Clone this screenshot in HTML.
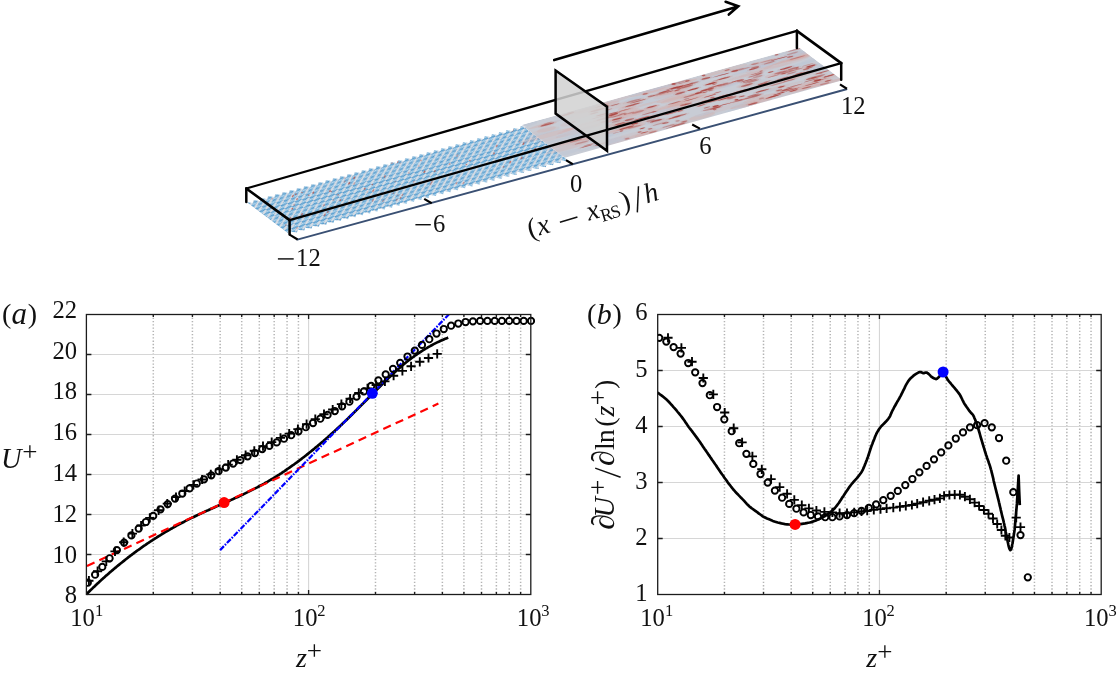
<!DOCTYPE html>
<html><head><meta charset="utf-8"><title>figure</title>
<style>
html,body{margin:0;padding:0;background:#fff;}
body{width:1117px;height:676px;overflow:hidden;position:relative;font-family:"Liberation Serif", serif;}
svg text{font-family:"Liberation Serif", serif;fill:#111;}
</style></head><body>
<svg width="1117" height="676" viewBox="0 0 1117 676" style="position:absolute;left:0;top:0">
<rect width="1117" height="676" fill="#fff"/>
<g opacity="0.999">
<defs>
<pattern id="chk" patternUnits="userSpaceOnUse" width="3.140" height="2.330">
<rect width="3.140" height="2.330" fill="#6aaedb"/>
<path d="M0 0L3.140 2.330M1.570 0L3.140 1.165M0 1.165L1.570 2.330" stroke="#4d8fc0" stroke-width="0.28" fill="none"/>
<path d="M0.785 0L3.140 1.748M0 0.583L2.355 2.330M0 0L0 0" stroke="#d3e8f5" stroke-width="0.36" fill="none"/>
<path d="M-3.140 4.660L6.280 -2.330" stroke="#dddee4" stroke-width="0.72" fill="none"/>
</pattern>
<filter id="blr" x="-5%" y="-20%" width="110%" height="140%"><feGaussianBlur stdDeviation="0.45"/></filter>
<filter id="blr2" x="-5%" y="-20%" width="110%" height="140%"><feGaussianBlur stdDeviation="0.65"/></filter>
<clipPath id="floorclip"><polygon points="246.3,201.9 289.6,234.6 841.2,79.8 796.9,48.1"/></clipPath>
<clipPath id="zigclip"><polygon points="0.00,0.00 1.57,1.50 3.14,0.01 4.71,1.51 6.28,0.02 7.85,1.52 9.42,0.03 10.99,1.53 12.56,0.04 14.13,1.54 15.70,0.05 17.27,1.55 18.84,0.06 20.41,1.56 21.98,0.07 23.55,1.57 25.12,0.08 26.69,1.58 28.26,0.09 29.83,1.59 31.40,0.10 32.97,1.60 34.54,0.12 36.11,1.62 37.68,0.13 39.25,1.63 40.82,0.14 42.39,1.64 43.96,0.15 45.53,1.65 47.10,0.16 48.67,1.66 50.24,0.17 51.81,1.67 53.38,0.18 54.95,1.68 56.52,0.19 58.09,1.69 59.66,0.20 61.23,1.70 62.80,0.21 64.37,1.71 65.94,0.22 67.51,1.72 69.08,0.23 70.65,1.73 72.22,0.24 73.79,1.74 75.36,0.25 76.93,1.75 78.50,0.26 80.07,1.76 81.64,0.27 83.21,1.77 84.78,0.28 86.35,1.78 87.92,0.29 89.49,1.79 91.06,0.30 92.63,1.80 94.20,0.31 95.77,1.81 97.34,0.32 98.91,1.82 100.48,0.33 102.05,1.83 103.62,0.35 105.19,1.85 106.76,0.36 108.33,1.86 109.90,0.37 111.47,1.87 113.04,0.38 114.61,1.88 116.18,0.39 117.75,1.89 119.32,0.40 120.89,1.90 120.00,0.00 241.00,0.00 241.00,24.00 120.00,24.00 120.00,26.40 120.89,24.90 119.32,26.39 117.75,24.86 116.18,26.32 114.61,24.79 113.04,26.26 111.47,24.73 109.90,26.20 108.33,24.67 106.76,26.14 105.19,24.60 103.62,26.07 102.05,24.54 100.48,26.01 98.91,24.48 97.34,25.95 95.77,24.42 94.20,25.88 92.63,24.35 91.06,25.82 89.49,24.29 87.92,25.76 86.35,24.23 84.78,25.70 83.21,24.16 81.64,25.63 80.07,24.10 78.50,25.57 76.93,24.04 75.36,25.51 73.79,23.98 72.22,25.44 70.65,23.91 69.08,25.38 67.51,23.85 65.94,25.32 64.37,23.79 62.80,25.26 61.23,23.72 59.66,25.19 58.09,23.66 56.52,25.13 54.95,23.60 53.38,25.07 51.81,23.54 50.24,25.00 48.67,23.47 47.10,24.94 45.53,23.41 43.96,24.88 42.39,23.35 40.82,24.82 39.25,23.29 37.68,24.75 36.11,23.22 34.54,24.69 32.97,23.16 31.40,24.63 29.83,23.10 28.26,24.57 26.69,23.03 25.12,24.50 23.55,22.97 21.98,24.44 20.41,22.91 18.84,24.38 17.27,22.85 15.70,24.31 14.13,22.78 12.56,24.25 10.99,22.72 9.42,24.19 7.85,22.66 6.28,24.13 4.71,22.59 3.14,24.06 1.57,22.53 0.00,24.00"/></clipPath>
</defs>
<g filter="url(#blr2)">
<g>
<g transform="matrix(2.29417 -0.64083 1.80417 1.36250 246.30 201.90)"><g clip-path="url(#zigclip)">
<rect x="-1" y="-1" width="121" height="29" fill="url(#chk)"/>
<path d="M39.24 4.32l1.14 -0.84" stroke="#c0564a" stroke-opacity="0.39" stroke-width="0.45"/>
<path d="M63.63 9.05l0.58 -0.43" stroke="#c0564a" stroke-opacity="0.63" stroke-width="0.45"/>
<path d="M6.31 10.54l0.59 -0.44" stroke="#c0564a" stroke-opacity="0.40" stroke-width="0.45"/>
<path d="M50.82 19.19l0.64 -0.48" stroke="#c0564a" stroke-opacity="0.47" stroke-width="0.45"/>
<path d="M74.15 21.85l1.07 -0.79" stroke="#c0564a" stroke-opacity="0.57" stroke-width="0.45"/>
<path d="M114.27 2.02l1.33 -0.99" stroke="#c0564a" stroke-opacity="0.51" stroke-width="0.45"/>
<path d="M18.59 3.59l0.81 -0.60" stroke="#c0564a" stroke-opacity="0.80" stroke-width="0.45"/>
<path d="M22.78 13.80l1.13 -0.84" stroke="#c0564a" stroke-opacity="0.55" stroke-width="0.45"/>
<path d="M64.99 2.38l0.58 -0.43" stroke="#c0564a" stroke-opacity="0.46" stroke-width="0.45"/>
<path d="M80.25 10.41l0.82 -0.61" stroke="#c0564a" stroke-opacity="0.67" stroke-width="0.45"/>
<path d="M54.12 7.59l1.27 -0.95" stroke="#c0564a" stroke-opacity="0.73" stroke-width="0.45"/>
<path d="M30.07 13.64l1.02 -0.76" stroke="#c0564a" stroke-opacity="0.83" stroke-width="0.45"/>
<path d="M85.89 7.33l1.45 -1.08" stroke="#c0564a" stroke-opacity="0.41" stroke-width="0.45"/>
<path d="M50.08 17.66l0.67 -0.50" stroke="#c0564a" stroke-opacity="0.62" stroke-width="0.45"/>
<path d="M6.51 15.70l1.25 -0.92" stroke="#c0564a" stroke-opacity="0.67" stroke-width="0.45"/>
<path d="M102.68 7.90l1.18 -0.88" stroke="#c0564a" stroke-opacity="0.68" stroke-width="0.45"/>
<path d="M68.69 11.04l1.32 -0.98" stroke="#c0564a" stroke-opacity="0.87" stroke-width="0.45"/>
<path d="M56.52 15.61l0.58 -0.43" stroke="#c0564a" stroke-opacity="0.74" stroke-width="0.45"/>
<path d="M76.42 22.85l1.30 -0.96" stroke="#c0564a" stroke-opacity="0.51" stroke-width="0.45"/>
<path d="M46.37 15.71l0.55 -0.40" stroke="#c0564a" stroke-opacity="0.60" stroke-width="0.45"/>
<path d="M21.33 3.58l0.58 -0.43" stroke="#c0564a" stroke-opacity="0.77" stroke-width="0.45"/>
<path d="M16.87 6.45l0.89 -0.66" stroke="#c0564a" stroke-opacity="0.83" stroke-width="0.45"/>
<path d="M11.27 10.88l1.04 -0.77" stroke="#c0564a" stroke-opacity="0.84" stroke-width="0.45"/>
<path d="M96.22 20.01l0.79 -0.58" stroke="#c0564a" stroke-opacity="0.58" stroke-width="0.45"/>
<path d="M43.26 20.45l1.43 -1.06" stroke="#c0564a" stroke-opacity="0.43" stroke-width="0.45"/>
<path d="M22.27 6.10l0.74 -0.55" stroke="#c0564a" stroke-opacity="0.62" stroke-width="0.45"/>
<path d="M69.75 6.78l0.53 -0.39" stroke="#c0564a" stroke-opacity="0.58" stroke-width="0.45"/>
<path d="M44.46 13.46l1.42 -1.06" stroke="#c0564a" stroke-opacity="0.73" stroke-width="0.45"/>
<path d="M61.28 14.59l1.16 -0.86" stroke="#c0564a" stroke-opacity="0.38" stroke-width="0.45"/>
<path d="M105.45 18.16l1.35 -1.00" stroke="#c0564a" stroke-opacity="0.79" stroke-width="0.45"/>
<path d="M47.12 9.78l0.62 -0.46" stroke="#c0564a" stroke-opacity="0.70" stroke-width="0.45"/>
<path d="M9.16 2.48l0.72 -0.54" stroke="#c0564a" stroke-opacity="0.44" stroke-width="0.45"/>
<path d="M41.11 2.16l0.52 -0.39" stroke="#c0564a" stroke-opacity="0.43" stroke-width="0.45"/>
<path d="M13.67 9.00l0.55 -0.41" stroke="#c0564a" stroke-opacity="0.83" stroke-width="0.45"/>
<path d="M72.62 4.27l0.76 -0.57" stroke="#c0564a" stroke-opacity="0.54" stroke-width="0.45"/>
<path d="M43.88 3.70l1.32 -0.98" stroke="#c0564a" stroke-opacity="0.90" stroke-width="0.45"/>
<path d="M55.59 11.64l0.61 -0.45" stroke="#c0564a" stroke-opacity="0.41" stroke-width="0.45"/>
<path d="M41.40 6.82l1.31 -0.97" stroke="#c0564a" stroke-opacity="0.44" stroke-width="0.45"/>
<path d="M4.66 21.92l1.02 -0.76" stroke="#c0564a" stroke-opacity="0.43" stroke-width="0.45"/>
<path d="M64.46 1.59l1.02 -0.76" stroke="#c0564a" stroke-opacity="0.89" stroke-width="0.45"/>
<path d="M101.28 16.32l0.77 -0.57" stroke="#c0564a" stroke-opacity="0.55" stroke-width="0.45"/>
<path d="M21.21 17.98l1.03 -0.76" stroke="#c0564a" stroke-opacity="0.78" stroke-width="0.45"/>
<path d="M39.91 5.91l1.29 -0.96" stroke="#c0564a" stroke-opacity="0.89" stroke-width="0.45"/>
<path d="M100.05 18.73l1.30 -0.96" stroke="#c0564a" stroke-opacity="0.76" stroke-width="0.45"/>
<path d="M28.08 12.39l0.86 -0.64" stroke="#c0564a" stroke-opacity="0.37" stroke-width="0.45"/>
<path d="M5.21 7.15l0.77 -0.57" stroke="#c0564a" stroke-opacity="0.73" stroke-width="0.45"/>
<path d="M112.00 10.84l1.41 -1.05" stroke="#c0564a" stroke-opacity="0.89" stroke-width="0.45"/>
<path d="M111.83 9.02l0.73 -0.54" stroke="#c0564a" stroke-opacity="0.47" stroke-width="0.45"/>
<path d="M24.62 5.50l1.11 -0.83" stroke="#c0564a" stroke-opacity="0.85" stroke-width="0.45"/>
<path d="M98.65 11.55l1.14 -0.85" stroke="#c0564a" stroke-opacity="0.79" stroke-width="0.45"/>
<path d="M11.75 15.53l1.38 -1.03" stroke="#c0564a" stroke-opacity="0.78" stroke-width="0.45"/>
<path d="M88.27 11.52l0.69 -0.51" stroke="#c0564a" stroke-opacity="0.78" stroke-width="0.45"/>
<path d="M40.24 18.62l1.44 -1.07" stroke="#c0564a" stroke-opacity="0.57" stroke-width="0.45"/>
<path d="M48.16 21.83l1.21 -0.90" stroke="#c0564a" stroke-opacity="0.44" stroke-width="0.45"/>
<path d="M16.61 4.33l1.38 -1.02" stroke="#c0564a" stroke-opacity="0.79" stroke-width="0.45"/>
<path d="M18.81 19.18l1.45 -1.08" stroke="#c0564a" stroke-opacity="0.71" stroke-width="0.45"/>
<path d="M42.30 13.07l0.65 -0.48" stroke="#c0564a" stroke-opacity="0.36" stroke-width="0.45"/>
<path d="M113.65 15.29l1.02 -0.76" stroke="#c0564a" stroke-opacity="0.86" stroke-width="0.45"/>
<path d="M51.89 20.18l1.30 -0.97" stroke="#c0564a" stroke-opacity="0.47" stroke-width="0.45"/>
<path d="M30.96 7.45l0.75 -0.56" stroke="#c0564a" stroke-opacity="0.67" stroke-width="0.45"/>
<path d="M31.83 10.22l0.65 -0.48" stroke="#c0564a" stroke-opacity="0.85" stroke-width="0.45"/>
<path d="M42.69 11.08l1.07 -0.80" stroke="#c0564a" stroke-opacity="0.85" stroke-width="0.45"/>
<path d="M50.37 21.19l1.00 -0.74" stroke="#c0564a" stroke-opacity="0.64" stroke-width="0.45"/>
<path d="M62.20 1.41l0.94 -0.70" stroke="#c0564a" stroke-opacity="0.45" stroke-width="0.45"/>
<path d="M2.45 18.58l0.69 -0.51" stroke="#c0564a" stroke-opacity="0.61" stroke-width="0.45"/>
<path d="M85.40 13.24l0.83 -0.62" stroke="#c0564a" stroke-opacity="0.64" stroke-width="0.45"/>
<path d="M65.88 18.25l0.62 -0.46" stroke="#c0564a" stroke-opacity="0.66" stroke-width="0.45"/>
<path d="M30.58 7.09l1.25 -0.93" stroke="#c0564a" stroke-opacity="0.63" stroke-width="0.45"/>
<path d="M66.60 17.72l1.38 -1.03" stroke="#c0564a" stroke-opacity="0.59" stroke-width="0.45"/>
<path d="M72.44 12.12l1.01 -0.75" stroke="#c0564a" stroke-opacity="0.73" stroke-width="0.45"/>
<rect x="120" y="-1" width="122" height="26" fill="#c8ccd5"/>
<ellipse cx="176.5" cy="12.80" rx="7.8" ry="1.45" fill="#d9a39d" fill-opacity="0.24"/>
<ellipse cx="225.7" cy="22.61" rx="6.1" ry="1.10" fill="#d9a39d" fill-opacity="0.29"/>
<ellipse cx="221.4" cy="3.29" rx="5.0" ry="1.00" fill="#d9a39d" fill-opacity="0.11"/>
<ellipse cx="151.9" cy="1.75" rx="9.4" ry="1.31" fill="#d9a39d" fill-opacity="0.28"/>
<ellipse cx="141.9" cy="17.19" rx="9.3" ry="0.73" fill="#d9a39d" fill-opacity="0.28"/>
<ellipse cx="236.2" cy="5.27" rx="11.6" ry="0.96" fill="#d9a39d" fill-opacity="0.20"/>
<ellipse cx="238.8" cy="19.98" rx="5.3" ry="0.99" fill="#d9a39d" fill-opacity="0.20"/>
<ellipse cx="163.3" cy="4.70" rx="6.5" ry="1.25" fill="#d9a39d" fill-opacity="0.10"/>
<ellipse cx="188.3" cy="10.57" rx="4.1" ry="0.90" fill="#d9a39d" fill-opacity="0.22"/>
<ellipse cx="183.4" cy="1.54" rx="11.9" ry="1.31" fill="#d9a39d" fill-opacity="0.29"/>
<ellipse cx="136.2" cy="6.37" rx="4.3" ry="1.30" fill="#d9a39d" fill-opacity="0.15"/>
<ellipse cx="139.0" cy="10.13" rx="11.3" ry="1.34" fill="#d9a39d" fill-opacity="0.15"/>
<ellipse cx="141.3" cy="22.06" rx="8.6" ry="1.23" fill="#d9a39d" fill-opacity="0.12"/>
<ellipse cx="130.7" cy="16.52" rx="7.4" ry="0.67" fill="#d9a39d" fill-opacity="0.29"/>
<ellipse cx="197.6" cy="19.24" rx="4.7" ry="1.37" fill="#d9a39d" fill-opacity="0.11"/>
<ellipse cx="224.1" cy="10.89" rx="6.7" ry="1.10" fill="#d9a39d" fill-opacity="0.29"/>
<ellipse cx="155.1" cy="3.10" rx="8.2" ry="0.81" fill="#d9a39d" fill-opacity="0.12"/>
<ellipse cx="142.7" cy="1.21" rx="5.6" ry="0.88" fill="#d9a39d" fill-opacity="0.16"/>
<ellipse cx="212.1" cy="6.96" rx="8.0" ry="0.76" fill="#d9a39d" fill-opacity="0.17"/>
<ellipse cx="126.1" cy="6.01" rx="4.1" ry="1.26" fill="#d9a39d" fill-opacity="0.21"/>
<ellipse cx="146.0" cy="11.39" rx="11.5" ry="0.70" fill="#d9a39d" fill-opacity="0.26"/>
<ellipse cx="174.1" cy="11.88" rx="10.7" ry="0.95" fill="#d9a39d" fill-opacity="0.20"/>
<ellipse cx="203.8" cy="23.58" rx="6.7" ry="1.35" fill="#d9a39d" fill-opacity="0.24"/>
<ellipse cx="197.8" cy="9.71" rx="6.8" ry="0.65" fill="#d9a39d" fill-opacity="0.13"/>
<ellipse cx="132.2" cy="17.78" rx="6.0" ry="0.75" fill="#d9a39d" fill-opacity="0.12"/>
<ellipse cx="221.6" cy="20.89" rx="9.4" ry="0.85" fill="#d9a39d" fill-opacity="0.15"/>
<ellipse cx="158.0" cy="11.03" rx="5.3" ry="1.00" fill="#d9a39d" fill-opacity="0.15"/>
<ellipse cx="235.6" cy="23.34" rx="8.4" ry="0.82" fill="#d9a39d" fill-opacity="0.29"/>
<ellipse cx="159.9" cy="8.56" rx="4.0" ry="0.94" fill="#d9a39d" fill-opacity="0.19"/>
<ellipse cx="182.3" cy="4.82" rx="8.0" ry="0.60" fill="#d9a39d" fill-opacity="0.15"/>
<ellipse cx="134.4" cy="9.59" rx="4.3" ry="0.62" fill="#d9a39d" fill-opacity="0.16"/>
<ellipse cx="151.0" cy="14.05" rx="8.2" ry="1.28" fill="#d9a39d" fill-opacity="0.23"/>
<ellipse cx="207.1" cy="21.10" rx="7.1" ry="0.89" fill="#d9a39d" fill-opacity="0.30"/>
<ellipse cx="141.3" cy="17.38" rx="9.1" ry="0.64" fill="#d9a39d" fill-opacity="0.27"/>
<ellipse cx="227.5" cy="15.06" rx="9.9" ry="1.33" fill="#d9a39d" fill-opacity="0.13"/>
<ellipse cx="184.8" cy="12.10" rx="10.7" ry="1.32" fill="#d9a39d" fill-opacity="0.27"/>
<ellipse cx="191.8" cy="21.43" rx="9.5" ry="1.22" fill="#d9a39d" fill-opacity="0.15"/>
<ellipse cx="127.6" cy="3.19" rx="6.9" ry="0.69" fill="#d9a39d" fill-opacity="0.27"/>
<ellipse cx="188.8" cy="15.07" rx="9.0" ry="1.21" fill="#d9a39d" fill-opacity="0.20"/>
<ellipse cx="124.4" cy="19.14" rx="10.0" ry="1.05" fill="#d9a39d" fill-opacity="0.21"/>
<ellipse cx="200.5" cy="1.59" rx="9.9" ry="0.83" fill="#d9a39d" fill-opacity="0.11"/>
<ellipse cx="154.8" cy="17.50" rx="5.6" ry="1.27" fill="#d9a39d" fill-opacity="0.30"/>
<ellipse cx="181.3" cy="9.18" rx="7.8" ry="1.22" fill="#d9a39d" fill-opacity="0.25"/>
<ellipse cx="195.6" cy="15.43" rx="4.6" ry="0.73" fill="#d9a39d" fill-opacity="0.15"/>
<ellipse cx="210.2" cy="7.31" rx="8.5" ry="0.61" fill="#d9a39d" fill-opacity="0.11"/>
<ellipse cx="155.2" cy="16.13" rx="9.5" ry="1.21" fill="#d9a39d" fill-opacity="0.16"/>
<ellipse cx="183.9" cy="11.15" rx="7.7" ry="0.71" fill="#d9a39d" fill-opacity="0.28"/>
<ellipse cx="147.1" cy="23.48" rx="11.5" ry="0.62" fill="#d9a39d" fill-opacity="0.19"/>
<ellipse cx="219.1" cy="23.23" rx="7.6" ry="0.84" fill="#d9a39d" fill-opacity="0.14"/>
<ellipse cx="233.7" cy="5.06" rx="8.7" ry="0.73" fill="#d9a39d" fill-opacity="0.20"/>
<ellipse cx="234.5" cy="3.18" rx="10.6" ry="1.06" fill="#d9a39d" fill-opacity="0.28"/>
<ellipse cx="205.6" cy="5.55" rx="11.2" ry="1.04" fill="#d9a39d" fill-opacity="0.10"/>
<ellipse cx="124.4" cy="11.80" rx="7.6" ry="0.87" fill="#d9a39d" fill-opacity="0.13"/>
<ellipse cx="163.9" cy="7.59" rx="10.7" ry="0.60" fill="#d9a39d" fill-opacity="0.25"/>
<ellipse cx="221.3" cy="2.88" rx="11.4" ry="1.24" fill="#d9a39d" fill-opacity="0.28"/>
<ellipse cx="157.6" cy="8.93" rx="7.1" ry="1.50" fill="#d9a39d" fill-opacity="0.22"/>
<ellipse cx="165.8" cy="10.27" rx="6.2" ry="0.64" fill="#d9a39d" fill-opacity="0.12"/>
<ellipse cx="220.8" cy="6.85" rx="11.5" ry="0.82" fill="#d9a39d" fill-opacity="0.15"/>
<ellipse cx="183.3" cy="4.56" rx="7.0" ry="1.46" fill="#d9a39d" fill-opacity="0.28"/>
<ellipse cx="218.2" cy="15.14" rx="11.3" ry="1.45" fill="#d9a39d" fill-opacity="0.21"/>
<ellipse cx="207.5" cy="1.19" rx="9.9" ry="1.01" fill="#d9a39d" fill-opacity="0.25"/>
<ellipse cx="198.8" cy="6.87" rx="4.4" ry="1.43" fill="#d9a39d" fill-opacity="0.13"/>
<ellipse cx="178.8" cy="8.25" rx="6.4" ry="1.27" fill="#d9a39d" fill-opacity="0.30"/>
<ellipse cx="154.2" cy="15.74" rx="6.4" ry="1.10" fill="#d9a39d" fill-opacity="0.18"/>
<ellipse cx="143.4" cy="3.88" rx="5.7" ry="1.42" fill="#d9a39d" fill-opacity="0.20"/>
<ellipse cx="149.5" cy="21.75" rx="12.0" ry="1.00" fill="#d9a39d" fill-opacity="0.13"/>
<ellipse cx="146.3" cy="2.18" rx="6.7" ry="0.68" fill="#d9a39d" fill-opacity="0.15"/>
<ellipse cx="154.0" cy="13.67" rx="11.1" ry="1.27" fill="#d9a39d" fill-opacity="0.18"/>
<ellipse cx="172.0" cy="12.58" rx="7.0" ry="0.90" fill="#d9a39d" fill-opacity="0.11"/>
<ellipse cx="156.2" cy="23.22" rx="5.0" ry="1.05" fill="#d9a39d" fill-opacity="0.23"/>
<ellipse cx="224.1" cy="5.18" rx="6.2" ry="0.82" fill="#d9a39d" fill-opacity="0.18"/>
<ellipse cx="175.7" cy="22.89" rx="10.8" ry="1.39" fill="#d9a39d" fill-opacity="0.10"/>
<ellipse cx="127.7" cy="17.03" rx="11.2" ry="1.03" fill="#d9a39d" fill-opacity="0.22"/>
<ellipse cx="124.0" cy="9.40" rx="11.4" ry="1.34" fill="#d9a39d" fill-opacity="0.27"/>
<ellipse cx="236.8" cy="5.96" rx="4.9" ry="0.74" fill="#d9a39d" fill-opacity="0.20"/>
<ellipse cx="203.1" cy="22.60" rx="9.8" ry="1.18" fill="#d9a39d" fill-opacity="0.25"/>
<ellipse cx="177.0" cy="13.24" rx="4.3" ry="1.30" fill="#d9a39d" fill-opacity="0.15"/>
<ellipse cx="230.7" cy="15.49" rx="6.4" ry="0.72" fill="#d9a39d" fill-opacity="0.15"/>
<ellipse cx="197.8" cy="16.77" rx="4.9" ry="0.66" fill="#d9a39d" fill-opacity="0.20"/>
<ellipse cx="191.6" cy="9.31" rx="5.8" ry="1.14" fill="#d9a39d" fill-opacity="0.10"/>
<ellipse cx="159.0" cy="11.06" rx="11.7" ry="1.18" fill="#d9a39d" fill-opacity="0.28"/>
<ellipse cx="179.1" cy="5.63" rx="6.0" ry="1.46" fill="#d9a39d" fill-opacity="0.24"/>
<ellipse cx="159.7" cy="0.52" rx="8.0" ry="1.21" fill="#d9a39d" fill-opacity="0.18"/>
<ellipse cx="153.8" cy="16.02" rx="11.4" ry="0.80" fill="#d9a39d" fill-opacity="0.11"/>
<ellipse cx="163.2" cy="10.09" rx="9.5" ry="0.78" fill="#d9a39d" fill-opacity="0.26"/>
<ellipse cx="209.7" cy="12.12" rx="5.6" ry="1.47" fill="#d9a39d" fill-opacity="0.16"/>
<ellipse cx="219.1" cy="5.54" rx="5.8" ry="1.28" fill="#d9a39d" fill-opacity="0.16"/>
<ellipse cx="234.4" cy="11.90" rx="5.5" ry="0.80" fill="#d9a39d" fill-opacity="0.18"/>
<ellipse cx="201.2" cy="22.77" rx="5.2" ry="0.95" fill="#d9a39d" fill-opacity="0.14"/>
<ellipse cx="237.0" cy="3.41" rx="4.4" ry="0.65" fill="#d9a39d" fill-opacity="0.18"/>
<ellipse cx="228.2" cy="21.21" rx="9.9" ry="1.50" fill="#d9a39d" fill-opacity="0.29"/>
<ellipse cx="162.2" cy="4.45" rx="11.5" ry="1.27" fill="#d9a39d" fill-opacity="0.11"/>
<ellipse cx="201.1" cy="9.09" rx="7.0" ry="0.90" fill="#d9a39d" fill-opacity="0.13"/>
<ellipse cx="124.3" cy="6.72" rx="6.8" ry="1.46" fill="#d9a39d" fill-opacity="0.12"/>
<ellipse cx="235.9" cy="4.98" rx="6.9" ry="1.34" fill="#d9a39d" fill-opacity="0.26"/>
<ellipse cx="174.2" cy="1.18" rx="7.8" ry="0.94" fill="#d9a39d" fill-opacity="0.28"/>
<ellipse cx="146.4" cy="8.74" rx="11.2" ry="0.63" fill="#d9a39d" fill-opacity="0.18"/>
<ellipse cx="218.2" cy="18.40" rx="4.3" ry="0.63" fill="#d9a39d" fill-opacity="0.11"/>
<ellipse cx="230.7" cy="6.17" rx="10.0" ry="1.41" fill="#d9a39d" fill-opacity="0.17"/>
<ellipse cx="155.6" cy="22.98" rx="8.9" ry="0.84" fill="#d9a39d" fill-opacity="0.24"/>
<ellipse cx="160.7" cy="6.62" rx="4.0" ry="1.28" fill="#d9a39d" fill-opacity="0.28"/>
<ellipse cx="197.5" cy="22.64" rx="4.2" ry="0.81" fill="#d9a39d" fill-opacity="0.20"/>
<ellipse cx="235.0" cy="22.89" rx="7.1" ry="0.83" fill="#d9a39d" fill-opacity="0.19"/>
<ellipse cx="181.2" cy="22.27" rx="5.5" ry="1.32" fill="#d9a39d" fill-opacity="0.25"/>
<ellipse cx="219.4" cy="18.55" rx="8.9" ry="0.90" fill="#d9a39d" fill-opacity="0.16"/>
<ellipse cx="166.0" cy="18.77" rx="4.6" ry="0.78" fill="#d9a39d" fill-opacity="0.25"/>
<ellipse cx="152.7" cy="1.55" rx="4.3" ry="1.10" fill="#d9a39d" fill-opacity="0.17"/>
<ellipse cx="237.7" cy="21.20" rx="11.9" ry="0.84" fill="#d9a39d" fill-opacity="0.12"/>
<ellipse cx="135.2" cy="11.96" rx="9.7" ry="1.00" fill="#d9a39d" fill-opacity="0.15"/>
<ellipse cx="172.4" cy="14.89" rx="9.4" ry="1.27" fill="#d9a39d" fill-opacity="0.27"/>
<ellipse cx="200.4" cy="2.91" rx="8.9" ry="0.64" fill="#bcc6d6" fill-opacity="0.47"/>
<ellipse cx="166.0" cy="17.71" rx="4.4" ry="0.60" fill="#bcc6d6" fill-opacity="0.37"/>
<ellipse cx="140.1" cy="21.22" rx="7.0" ry="0.66" fill="#bcc6d6" fill-opacity="0.42"/>
<ellipse cx="239.1" cy="12.18" rx="4.6" ry="1.05" fill="#bcc6d6" fill-opacity="0.50"/>
<ellipse cx="238.9" cy="2.46" rx="6.3" ry="1.06" fill="#bcc6d6" fill-opacity="0.55"/>
<ellipse cx="229.9" cy="0.97" rx="5.1" ry="0.50" fill="#bcc6d6" fill-opacity="0.36"/>
<ellipse cx="236.8" cy="14.00" rx="9.5" ry="0.70" fill="#bcc6d6" fill-opacity="0.56"/>
<ellipse cx="175.0" cy="6.24" rx="8.4" ry="1.16" fill="#bcc6d6" fill-opacity="0.33"/>
<ellipse cx="192.3" cy="14.88" rx="4.5" ry="0.69" fill="#bcc6d6" fill-opacity="0.34"/>
<ellipse cx="146.1" cy="6.12" rx="7.2" ry="0.92" fill="#bcc6d6" fill-opacity="0.36"/>
<ellipse cx="123.3" cy="7.85" rx="7.7" ry="0.55" fill="#bcc6d6" fill-opacity="0.39"/>
<ellipse cx="146.0" cy="19.09" rx="6.8" ry="0.45" fill="#bcc6d6" fill-opacity="0.33"/>
<ellipse cx="168.6" cy="13.20" rx="7.5" ry="0.47" fill="#bcc6d6" fill-opacity="0.35"/>
<ellipse cx="204.1" cy="9.83" rx="5.0" ry="0.65" fill="#bcc6d6" fill-opacity="0.59"/>
<ellipse cx="158.9" cy="13.60" rx="5.5" ry="0.73" fill="#bcc6d6" fill-opacity="0.56"/>
<ellipse cx="239.6" cy="8.73" rx="4.4" ry="0.98" fill="#bcc6d6" fill-opacity="0.36"/>
<ellipse cx="122.7" cy="21.64" rx="6.0" ry="1.06" fill="#bcc6d6" fill-opacity="0.42"/>
<ellipse cx="226.2" cy="11.06" rx="4.1" ry="0.41" fill="#bcc6d6" fill-opacity="0.47"/>
<ellipse cx="197.6" cy="21.84" rx="3.6" ry="0.90" fill="#bcc6d6" fill-opacity="0.41"/>
<ellipse cx="181.5" cy="3.50" rx="5.0" ry="0.82" fill="#bcc6d6" fill-opacity="0.58"/>
<ellipse cx="134.8" cy="11.77" rx="8.6" ry="1.17" fill="#bcc6d6" fill-opacity="0.36"/>
<ellipse cx="136.9" cy="22.63" rx="9.8" ry="0.79" fill="#bcc6d6" fill-opacity="0.32"/>
<ellipse cx="231.3" cy="9.31" rx="9.3" ry="0.90" fill="#bcc6d6" fill-opacity="0.55"/>
<ellipse cx="140.9" cy="18.86" rx="4.6" ry="0.72" fill="#bcc6d6" fill-opacity="0.55"/>
<ellipse cx="219.8" cy="4.39" rx="4.5" ry="0.72" fill="#bcc6d6" fill-opacity="0.46"/>
<ellipse cx="167.3" cy="2.95" rx="4.7" ry="0.98" fill="#bcc6d6" fill-opacity="0.57"/>
<ellipse cx="126.8" cy="13.50" rx="8.3" ry="0.43" fill="#bcc6d6" fill-opacity="0.55"/>
<ellipse cx="135.9" cy="14.39" rx="6.9" ry="0.90" fill="#bcc6d6" fill-opacity="0.39"/>
<ellipse cx="171.6" cy="13.98" rx="6.0" ry="0.93" fill="#bcc6d6" fill-opacity="0.43"/>
<ellipse cx="173.7" cy="0.56" rx="7.3" ry="0.79" fill="#bcc6d6" fill-opacity="0.37"/>
<ellipse cx="212.1" cy="18.72" rx="6.2" ry="0.54" fill="#bcc6d6" fill-opacity="0.44"/>
<ellipse cx="134.6" cy="3.08" rx="6.0" ry="0.47" fill="#bcc6d6" fill-opacity="0.43"/>
<ellipse cx="182.2" cy="0.98" rx="7.5" ry="0.47" fill="#bcc6d6" fill-opacity="0.52"/>
<ellipse cx="213.8" cy="12.28" rx="3.4" ry="0.80" fill="#bcc6d6" fill-opacity="0.41"/>
<ellipse cx="234.2" cy="3.27" rx="9.0" ry="1.20" fill="#bcc6d6" fill-opacity="0.52"/>
<ellipse cx="218.2" cy="4.65" rx="9.9" ry="0.79" fill="#bcc6d6" fill-opacity="0.59"/>
<ellipse cx="230.1" cy="3.96" rx="8.5" ry="1.14" fill="#bcc6d6" fill-opacity="0.32"/>
<ellipse cx="163.4" cy="18.15" rx="4.1" ry="1.12" fill="#bcc6d6" fill-opacity="0.38"/>
<ellipse cx="218.2" cy="3.45" rx="6.5" ry="1.14" fill="#bcc6d6" fill-opacity="0.36"/>
<ellipse cx="153.0" cy="12.14" rx="5.2" ry="0.43" fill="#bcc6d6" fill-opacity="0.35"/>
<ellipse cx="141.0" cy="22.47" rx="7.8" ry="1.12" fill="#bcc6d6" fill-opacity="0.35"/>
<ellipse cx="214.6" cy="2.76" rx="6.7" ry="0.91" fill="#bcc6d6" fill-opacity="0.41"/>
<ellipse cx="225.0" cy="13.32" rx="7.1" ry="1.11" fill="#bcc6d6" fill-opacity="0.33"/>
<ellipse cx="239.2" cy="15.11" rx="5.8" ry="1.04" fill="#bcc6d6" fill-opacity="0.38"/>
<ellipse cx="238.9" cy="13.86" rx="5.5" ry="1.01" fill="#bcc6d6" fill-opacity="0.43"/>
<ellipse cx="142.9" cy="17.85" rx="3.3" ry="1.06" fill="#bcc6d6" fill-opacity="0.38"/>
<ellipse cx="197.4" cy="23.62" rx="7.1" ry="0.93" fill="#bcc6d6" fill-opacity="0.39"/>
<ellipse cx="122.2" cy="0.81" rx="4.0" ry="0.89" fill="#bcc6d6" fill-opacity="0.43"/>
<ellipse cx="182.5" cy="21.49" rx="3.9" ry="0.58" fill="#bcc6d6" fill-opacity="0.50"/>
<ellipse cx="124.6" cy="0.06" rx="5.5" ry="0.49" fill="#bcc6d6" fill-opacity="0.41"/>
<ellipse cx="151.8" cy="13.96" rx="3.4" ry="0.46" fill="#cf837c" fill-opacity="0.19"/>
<ellipse cx="151.8" cy="13.96" rx="2.4" ry="0.23" fill="#a5342f" fill-opacity="0.64"/>
<ellipse cx="180.6" cy="3.45" rx="4.8" ry="0.49" fill="#cf837c" fill-opacity="0.11"/>
<ellipse cx="180.6" cy="3.45" rx="3.4" ry="0.24" fill="#a5342f" fill-opacity="0.38"/>
<ellipse cx="137.0" cy="15.23" rx="4.2" ry="0.59" fill="#cf837c" fill-opacity="0.13"/>
<ellipse cx="137.0" cy="15.23" rx="3.0" ry="0.30" fill="#a5342f" fill-opacity="0.45"/>
<ellipse cx="166.3" cy="15.41" rx="2.8" ry="0.96" fill="#cf837c" fill-opacity="0.21"/>
<ellipse cx="166.3" cy="15.41" rx="2.0" ry="0.48" fill="#a5342f" fill-opacity="0.70"/>
<ellipse cx="154.6" cy="21.44" rx="1.2" ry="0.68" fill="#cf837c" fill-opacity="0.16"/>
<ellipse cx="154.6" cy="21.44" rx="0.8" ry="0.34" fill="#a5342f" fill-opacity="0.52"/>
<ellipse cx="153.3" cy="1.67" rx="4.1" ry="0.33" fill="#cf837c" fill-opacity="0.18"/>
<ellipse cx="153.3" cy="1.67" rx="3.0" ry="0.16" fill="#a5342f" fill-opacity="0.60"/>
<ellipse cx="234.2" cy="3.63" rx="1.8" ry="0.73" fill="#cf837c" fill-opacity="0.17"/>
<ellipse cx="234.2" cy="3.63" rx="1.3" ry="0.37" fill="#a5342f" fill-opacity="0.58"/>
<ellipse cx="199.8" cy="19.33" rx="1.7" ry="0.53" fill="#cf837c" fill-opacity="0.14"/>
<ellipse cx="199.8" cy="19.33" rx="1.2" ry="0.27" fill="#a5342f" fill-opacity="0.47"/>
<ellipse cx="131.6" cy="21.11" rx="3.9" ry="0.32" fill="#cf837c" fill-opacity="0.23"/>
<ellipse cx="131.6" cy="21.11" rx="2.8" ry="0.16" fill="#a5342f" fill-opacity="0.76"/>
<ellipse cx="211.7" cy="11.19" rx="4.0" ry="0.63" fill="#cf837c" fill-opacity="0.13"/>
<ellipse cx="211.7" cy="11.19" rx="2.9" ry="0.31" fill="#a5342f" fill-opacity="0.42"/>
<ellipse cx="164.6" cy="17.84" rx="3.8" ry="0.89" fill="#cf837c" fill-opacity="0.21"/>
<ellipse cx="164.6" cy="17.84" rx="2.7" ry="0.45" fill="#a5342f" fill-opacity="0.69"/>
<ellipse cx="156.6" cy="13.26" rx="2.8" ry="0.86" fill="#cf837c" fill-opacity="0.18"/>
<ellipse cx="156.6" cy="13.26" rx="2.0" ry="0.43" fill="#a5342f" fill-opacity="0.59"/>
<ellipse cx="156.5" cy="15.32" rx="4.9" ry="0.47" fill="#cf837c" fill-opacity="0.24"/>
<ellipse cx="156.5" cy="15.32" rx="3.5" ry="0.23" fill="#a5342f" fill-opacity="0.78"/>
<ellipse cx="211.5" cy="22.41" rx="4.0" ry="0.54" fill="#cf837c" fill-opacity="0.24"/>
<ellipse cx="211.5" cy="22.41" rx="2.9" ry="0.27" fill="#a5342f" fill-opacity="0.78"/>
<ellipse cx="163.8" cy="5.90" rx="4.7" ry="0.75" fill="#cf837c" fill-opacity="0.20"/>
<ellipse cx="163.8" cy="5.90" rx="3.3" ry="0.37" fill="#a5342f" fill-opacity="0.68"/>
<ellipse cx="202.5" cy="23.21" rx="2.9" ry="0.89" fill="#cf837c" fill-opacity="0.21"/>
<ellipse cx="202.5" cy="23.21" rx="2.1" ry="0.45" fill="#a5342f" fill-opacity="0.68"/>
<ellipse cx="224.6" cy="10.53" rx="3.9" ry="0.71" fill="#cf837c" fill-opacity="0.14"/>
<ellipse cx="224.6" cy="10.53" rx="2.8" ry="0.35" fill="#a5342f" fill-opacity="0.47"/>
<ellipse cx="150.4" cy="14.87" rx="1.3" ry="0.94" fill="#cf837c" fill-opacity="0.11"/>
<ellipse cx="150.4" cy="14.87" rx="0.9" ry="0.47" fill="#a5342f" fill-opacity="0.38"/>
<ellipse cx="129.1" cy="2.80" rx="2.4" ry="0.42" fill="#cf837c" fill-opacity="0.09"/>
<ellipse cx="129.1" cy="2.80" rx="1.7" ry="0.21" fill="#a5342f" fill-opacity="0.32"/>
<ellipse cx="130.8" cy="16.51" rx="3.8" ry="0.82" fill="#cf837c" fill-opacity="0.10"/>
<ellipse cx="130.8" cy="16.51" rx="2.7" ry="0.41" fill="#a5342f" fill-opacity="0.34"/>
<ellipse cx="193.9" cy="8.80" rx="4.3" ry="0.88" fill="#cf837c" fill-opacity="0.24"/>
<ellipse cx="193.9" cy="8.80" rx="3.1" ry="0.44" fill="#a5342f" fill-opacity="0.79"/>
<ellipse cx="133.6" cy="20.61" rx="4.8" ry="0.39" fill="#cf837c" fill-opacity="0.12"/>
<ellipse cx="133.6" cy="20.61" rx="3.4" ry="0.20" fill="#a5342f" fill-opacity="0.41"/>
<ellipse cx="138.9" cy="1.11" rx="4.3" ry="0.75" fill="#cf837c" fill-opacity="0.23"/>
<ellipse cx="138.9" cy="1.11" rx="3.1" ry="0.38" fill="#a5342f" fill-opacity="0.75"/>
<ellipse cx="198.6" cy="7.02" rx="1.4" ry="0.39" fill="#cf837c" fill-opacity="0.21"/>
<ellipse cx="198.6" cy="7.02" rx="1.0" ry="0.19" fill="#a5342f" fill-opacity="0.72"/>
<ellipse cx="208.3" cy="8.91" rx="2.3" ry="0.98" fill="#cf837c" fill-opacity="0.17"/>
<ellipse cx="208.3" cy="8.91" rx="1.6" ry="0.49" fill="#a5342f" fill-opacity="0.58"/>
<ellipse cx="223.9" cy="14.77" rx="1.1" ry="0.60" fill="#cf837c" fill-opacity="0.16"/>
<ellipse cx="223.9" cy="14.77" rx="0.8" ry="0.30" fill="#a5342f" fill-opacity="0.54"/>
<ellipse cx="214.9" cy="8.41" rx="3.8" ry="0.69" fill="#cf837c" fill-opacity="0.13"/>
<ellipse cx="214.9" cy="8.41" rx="2.7" ry="0.34" fill="#a5342f" fill-opacity="0.42"/>
<ellipse cx="225.2" cy="2.43" rx="4.3" ry="0.44" fill="#cf837c" fill-opacity="0.09"/>
<ellipse cx="225.2" cy="2.43" rx="3.1" ry="0.22" fill="#a5342f" fill-opacity="0.30"/>
<ellipse cx="149.2" cy="18.14" rx="1.0" ry="0.65" fill="#cf837c" fill-opacity="0.17"/>
<ellipse cx="149.2" cy="18.14" rx="0.7" ry="0.33" fill="#a5342f" fill-opacity="0.57"/>
<ellipse cx="217.6" cy="4.62" rx="3.0" ry="0.56" fill="#cf837c" fill-opacity="0.23"/>
<ellipse cx="217.6" cy="4.62" rx="2.1" ry="0.28" fill="#a5342f" fill-opacity="0.76"/>
<ellipse cx="156.0" cy="22.39" rx="2.1" ry="0.47" fill="#cf837c" fill-opacity="0.21"/>
<ellipse cx="156.0" cy="22.39" rx="1.5" ry="0.23" fill="#a5342f" fill-opacity="0.68"/>
<ellipse cx="183.3" cy="2.87" rx="3.6" ry="0.38" fill="#cf837c" fill-opacity="0.22"/>
<ellipse cx="183.3" cy="2.87" rx="2.5" ry="0.19" fill="#a5342f" fill-opacity="0.73"/>
<ellipse cx="206.2" cy="18.71" rx="3.5" ry="0.56" fill="#cf837c" fill-opacity="0.16"/>
<ellipse cx="206.2" cy="18.71" rx="2.5" ry="0.28" fill="#a5342f" fill-opacity="0.52"/>
<ellipse cx="171.4" cy="21.14" rx="1.3" ry="0.92" fill="#cf837c" fill-opacity="0.09"/>
<ellipse cx="171.4" cy="21.14" rx="0.9" ry="0.46" fill="#a5342f" fill-opacity="0.31"/>
<ellipse cx="149.7" cy="6.46" rx="3.0" ry="0.58" fill="#cf837c" fill-opacity="0.24"/>
<ellipse cx="149.7" cy="6.46" rx="2.2" ry="0.29" fill="#a5342f" fill-opacity="0.79"/>
<ellipse cx="152.9" cy="11.09" rx="3.1" ry="0.83" fill="#cf837c" fill-opacity="0.21"/>
<ellipse cx="152.9" cy="11.09" rx="2.2" ry="0.42" fill="#a5342f" fill-opacity="0.71"/>
<ellipse cx="200.3" cy="8.45" rx="2.3" ry="0.43" fill="#cf837c" fill-opacity="0.23"/>
<ellipse cx="200.3" cy="8.45" rx="1.6" ry="0.21" fill="#a5342f" fill-opacity="0.76"/>
<ellipse cx="202.1" cy="17.66" rx="1.7" ry="0.62" fill="#cf837c" fill-opacity="0.22"/>
<ellipse cx="202.1" cy="17.66" rx="1.2" ry="0.31" fill="#a5342f" fill-opacity="0.73"/>
<ellipse cx="192.6" cy="3.25" rx="2.9" ry="0.92" fill="#cf837c" fill-opacity="0.13"/>
<ellipse cx="192.6" cy="3.25" rx="2.0" ry="0.46" fill="#a5342f" fill-opacity="0.43"/>
<ellipse cx="148.0" cy="7.36" rx="4.4" ry="0.43" fill="#cf837c" fill-opacity="0.12"/>
<ellipse cx="148.0" cy="7.36" rx="3.1" ry="0.21" fill="#a5342f" fill-opacity="0.39"/>
<ellipse cx="154.5" cy="7.94" rx="3.1" ry="0.43" fill="#cf837c" fill-opacity="0.14"/>
<ellipse cx="154.5" cy="7.94" rx="2.2" ry="0.21" fill="#a5342f" fill-opacity="0.48"/>
<ellipse cx="147.8" cy="23.12" rx="1.4" ry="0.97" fill="#cf837c" fill-opacity="0.11"/>
<ellipse cx="147.8" cy="23.12" rx="1.0" ry="0.49" fill="#a5342f" fill-opacity="0.36"/>
<ellipse cx="170.2" cy="23.32" rx="4.2" ry="0.82" fill="#cf837c" fill-opacity="0.16"/>
<ellipse cx="170.2" cy="23.32" rx="3.0" ry="0.41" fill="#a5342f" fill-opacity="0.54"/>
<ellipse cx="171.9" cy="18.81" rx="3.8" ry="0.66" fill="#cf837c" fill-opacity="0.19"/>
<ellipse cx="171.9" cy="18.81" rx="2.7" ry="0.33" fill="#a5342f" fill-opacity="0.65"/>
<ellipse cx="179.3" cy="3.62" rx="3.4" ry="0.60" fill="#cf837c" fill-opacity="0.21"/>
<ellipse cx="179.3" cy="3.62" rx="2.5" ry="0.30" fill="#a5342f" fill-opacity="0.71"/>
<ellipse cx="230.4" cy="10.36" rx="3.3" ry="0.83" fill="#cf837c" fill-opacity="0.16"/>
<ellipse cx="230.4" cy="10.36" rx="2.4" ry="0.41" fill="#a5342f" fill-opacity="0.53"/>
<ellipse cx="152.3" cy="17.20" rx="4.6" ry="0.85" fill="#cf837c" fill-opacity="0.21"/>
<ellipse cx="152.3" cy="17.20" rx="3.3" ry="0.42" fill="#a5342f" fill-opacity="0.69"/>
<ellipse cx="224.0" cy="16.20" rx="3.6" ry="0.63" fill="#cf837c" fill-opacity="0.14"/>
<ellipse cx="224.0" cy="16.20" rx="2.6" ry="0.31" fill="#a5342f" fill-opacity="0.47"/>
<ellipse cx="198.3" cy="2.59" rx="2.7" ry="0.85" fill="#cf837c" fill-opacity="0.21"/>
<ellipse cx="198.3" cy="2.59" rx="1.9" ry="0.43" fill="#a5342f" fill-opacity="0.69"/>
<ellipse cx="198.4" cy="6.15" rx="2.7" ry="0.63" fill="#cf837c" fill-opacity="0.19"/>
<ellipse cx="198.4" cy="6.15" rx="1.9" ry="0.31" fill="#a5342f" fill-opacity="0.64"/>
<ellipse cx="173.1" cy="16.10" rx="4.8" ry="0.44" fill="#cf837c" fill-opacity="0.20"/>
<ellipse cx="173.1" cy="16.10" rx="3.4" ry="0.22" fill="#a5342f" fill-opacity="0.66"/>
<ellipse cx="215.5" cy="9.40" rx="3.0" ry="0.98" fill="#cf837c" fill-opacity="0.10"/>
<ellipse cx="215.5" cy="9.40" rx="2.1" ry="0.49" fill="#a5342f" fill-opacity="0.32"/>
<ellipse cx="188.5" cy="4.06" rx="4.2" ry="0.96" fill="#cf837c" fill-opacity="0.18"/>
<ellipse cx="188.5" cy="4.06" rx="3.0" ry="0.48" fill="#a5342f" fill-opacity="0.59"/>
<ellipse cx="208.5" cy="12.29" rx="3.6" ry="0.88" fill="#cf837c" fill-opacity="0.18"/>
<ellipse cx="208.5" cy="12.29" rx="2.6" ry="0.44" fill="#a5342f" fill-opacity="0.59"/>
<ellipse cx="173.2" cy="22.48" rx="1.8" ry="0.79" fill="#cf837c" fill-opacity="0.15"/>
<ellipse cx="173.2" cy="22.48" rx="1.3" ry="0.39" fill="#a5342f" fill-opacity="0.52"/>
<ellipse cx="213.7" cy="3.16" rx="5.0" ry="0.56" fill="#cf837c" fill-opacity="0.10"/>
<ellipse cx="213.7" cy="3.16" rx="3.6" ry="0.28" fill="#a5342f" fill-opacity="0.33"/>
<ellipse cx="157.6" cy="9.65" rx="1.0" ry="0.60" fill="#cf837c" fill-opacity="0.16"/>
<ellipse cx="157.6" cy="9.65" rx="0.7" ry="0.30" fill="#a5342f" fill-opacity="0.53"/>
<ellipse cx="206.3" cy="8.54" rx="2.1" ry="0.47" fill="#cf837c" fill-opacity="0.21"/>
<ellipse cx="206.3" cy="8.54" rx="1.5" ry="0.24" fill="#a5342f" fill-opacity="0.71"/>
<ellipse cx="234.1" cy="12.63" rx="1.9" ry="0.87" fill="#cf837c" fill-opacity="0.15"/>
<ellipse cx="234.1" cy="12.63" rx="1.3" ry="0.43" fill="#a5342f" fill-opacity="0.52"/>
<ellipse cx="150.4" cy="3.33" rx="4.1" ry="0.87" fill="#cf837c" fill-opacity="0.19"/>
<ellipse cx="150.4" cy="3.33" rx="3.0" ry="0.44" fill="#a5342f" fill-opacity="0.65"/>
<ellipse cx="180.0" cy="13.45" rx="1.9" ry="0.98" fill="#cf837c" fill-opacity="0.15"/>
<ellipse cx="180.0" cy="13.45" rx="1.4" ry="0.49" fill="#a5342f" fill-opacity="0.49"/>
<ellipse cx="199.5" cy="19.46" rx="4.3" ry="0.64" fill="#cf837c" fill-opacity="0.14"/>
<ellipse cx="199.5" cy="19.46" rx="3.1" ry="0.32" fill="#a5342f" fill-opacity="0.46"/>
<ellipse cx="189.1" cy="3.23" rx="4.4" ry="0.56" fill="#cf837c" fill-opacity="0.23"/>
<ellipse cx="189.1" cy="3.23" rx="3.1" ry="0.28" fill="#a5342f" fill-opacity="0.77"/>
<ellipse cx="156.8" cy="9.10" rx="2.0" ry="0.61" fill="#cf837c" fill-opacity="0.12"/>
<ellipse cx="156.8" cy="9.10" rx="1.4" ry="0.30" fill="#a5342f" fill-opacity="0.40"/>
<ellipse cx="154.2" cy="7.36" rx="2.9" ry="0.61" fill="#cf837c" fill-opacity="0.20"/>
<ellipse cx="154.2" cy="7.36" rx="2.1" ry="0.31" fill="#a5342f" fill-opacity="0.65"/>
<ellipse cx="201.8" cy="8.78" rx="4.8" ry="0.90" fill="#cf837c" fill-opacity="0.10"/>
<ellipse cx="201.8" cy="8.78" rx="3.4" ry="0.45" fill="#a5342f" fill-opacity="0.33"/>
<ellipse cx="221.2" cy="21.50" rx="4.2" ry="0.42" fill="#cf837c" fill-opacity="0.23"/>
<ellipse cx="221.2" cy="21.50" rx="3.0" ry="0.21" fill="#a5342f" fill-opacity="0.76"/>
<ellipse cx="198.8" cy="0.65" rx="1.0" ry="0.97" fill="#cf837c" fill-opacity="0.20"/>
<ellipse cx="198.8" cy="0.65" rx="0.7" ry="0.48" fill="#a5342f" fill-opacity="0.66"/>
<ellipse cx="154.8" cy="2.68" rx="1.6" ry="0.48" fill="#cf837c" fill-opacity="0.22"/>
<ellipse cx="154.8" cy="2.68" rx="1.1" ry="0.24" fill="#a5342f" fill-opacity="0.73"/>
<ellipse cx="165.8" cy="3.87" rx="4.7" ry="0.86" fill="#cf837c" fill-opacity="0.12"/>
<ellipse cx="165.8" cy="3.87" rx="3.3" ry="0.43" fill="#a5342f" fill-opacity="0.39"/>
<ellipse cx="228.5" cy="14.54" rx="4.2" ry="0.77" fill="#cf837c" fill-opacity="0.24"/>
<ellipse cx="228.5" cy="14.54" rx="3.0" ry="0.39" fill="#a5342f" fill-opacity="0.79"/>
<ellipse cx="216.6" cy="19.93" rx="1.8" ry="0.79" fill="#cf837c" fill-opacity="0.18"/>
<ellipse cx="216.6" cy="19.93" rx="1.3" ry="0.40" fill="#a5342f" fill-opacity="0.59"/>
<ellipse cx="211.3" cy="10.56" rx="4.6" ry="0.70" fill="#cf837c" fill-opacity="0.13"/>
<ellipse cx="211.3" cy="10.56" rx="3.3" ry="0.35" fill="#a5342f" fill-opacity="0.45"/>
<ellipse cx="152.9" cy="3.56" rx="3.0" ry="0.36" fill="#cf837c" fill-opacity="0.17"/>
<ellipse cx="152.9" cy="3.56" rx="2.1" ry="0.18" fill="#a5342f" fill-opacity="0.56"/>
<ellipse cx="188.0" cy="20.49" rx="1.0" ry="0.89" fill="#cf837c" fill-opacity="0.17"/>
<ellipse cx="188.0" cy="20.49" rx="0.7" ry="0.45" fill="#a5342f" fill-opacity="0.56"/>
<ellipse cx="190.7" cy="15.87" rx="4.4" ry="0.57" fill="#cf837c" fill-opacity="0.16"/>
<ellipse cx="190.7" cy="15.87" rx="3.1" ry="0.29" fill="#a5342f" fill-opacity="0.53"/>
<ellipse cx="236.5" cy="2.06" rx="3.6" ry="0.75" fill="#cf837c" fill-opacity="0.09"/>
<ellipse cx="236.5" cy="2.06" rx="2.5" ry="0.38" fill="#a5342f" fill-opacity="0.32"/>
<ellipse cx="196.1" cy="16.27" rx="4.8" ry="0.54" fill="#cf837c" fill-opacity="0.25"/>
<ellipse cx="196.1" cy="16.27" rx="3.4" ry="0.27" fill="#a5342f" fill-opacity="0.84"/>
<ellipse cx="184.7" cy="11.64" rx="4.6" ry="0.34" fill="#cf837c" fill-opacity="0.21"/>
<ellipse cx="184.7" cy="11.64" rx="3.3" ry="0.17" fill="#a5342f" fill-opacity="0.70"/>
<ellipse cx="197.9" cy="8.22" rx="4.5" ry="0.57" fill="#cf837c" fill-opacity="0.17"/>
<ellipse cx="197.9" cy="8.22" rx="3.2" ry="0.28" fill="#a5342f" fill-opacity="0.56"/>
<ellipse cx="186.4" cy="18.33" rx="1.8" ry="0.62" fill="#cf837c" fill-opacity="0.16"/>
<ellipse cx="186.4" cy="18.33" rx="1.3" ry="0.31" fill="#a5342f" fill-opacity="0.53"/>
<ellipse cx="189.7" cy="19.65" rx="2.2" ry="0.88" fill="#cf837c" fill-opacity="0.16"/>
<ellipse cx="189.7" cy="19.65" rx="1.5" ry="0.44" fill="#a5342f" fill-opacity="0.52"/>
<ellipse cx="183.9" cy="6.66" rx="3.0" ry="0.98" fill="#cf837c" fill-opacity="0.20"/>
<ellipse cx="183.9" cy="6.66" rx="2.2" ry="0.49" fill="#a5342f" fill-opacity="0.66"/>
<ellipse cx="217.1" cy="8.04" rx="2.3" ry="0.52" fill="#cf837c" fill-opacity="0.19"/>
<ellipse cx="217.1" cy="8.04" rx="1.6" ry="0.26" fill="#a5342f" fill-opacity="0.62"/>
<ellipse cx="199.0" cy="18.65" rx="1.1" ry="0.81" fill="#cf837c" fill-opacity="0.24"/>
<ellipse cx="199.0" cy="18.65" rx="0.8" ry="0.41" fill="#a5342f" fill-opacity="0.79"/>
<ellipse cx="188.7" cy="1.46" rx="2.2" ry="0.32" fill="#cf837c" fill-opacity="0.12"/>
<ellipse cx="188.7" cy="1.46" rx="1.6" ry="0.16" fill="#a5342f" fill-opacity="0.40"/>
<ellipse cx="232.0" cy="14.54" rx="3.7" ry="0.86" fill="#cf837c" fill-opacity="0.24"/>
<ellipse cx="232.0" cy="14.54" rx="2.6" ry="0.43" fill="#a5342f" fill-opacity="0.80"/>
<ellipse cx="196.4" cy="14.73" rx="3.5" ry="0.79" fill="#cf837c" fill-opacity="0.19"/>
<ellipse cx="196.4" cy="14.73" rx="2.5" ry="0.40" fill="#a5342f" fill-opacity="0.63"/>
<ellipse cx="204.3" cy="5.27" rx="3.7" ry="0.63" fill="#cf837c" fill-opacity="0.22"/>
<ellipse cx="204.3" cy="5.27" rx="2.6" ry="0.32" fill="#a5342f" fill-opacity="0.72"/>
<ellipse cx="215.1" cy="21.69" rx="3.6" ry="0.57" fill="#cf837c" fill-opacity="0.23"/>
<ellipse cx="215.1" cy="21.69" rx="2.6" ry="0.29" fill="#a5342f" fill-opacity="0.75"/>
<ellipse cx="216.5" cy="13.45" rx="2.0" ry="0.53" fill="#cf837c" fill-opacity="0.16"/>
<ellipse cx="216.5" cy="13.45" rx="1.4" ry="0.26" fill="#a5342f" fill-opacity="0.53"/>
<ellipse cx="162.6" cy="10.38" rx="3.6" ry="0.96" fill="#cf837c" fill-opacity="0.10"/>
<ellipse cx="162.6" cy="10.38" rx="2.6" ry="0.48" fill="#a5342f" fill-opacity="0.33"/>
<ellipse cx="191.3" cy="1.22" rx="1.5" ry="0.87" fill="#cf837c" fill-opacity="0.18"/>
<ellipse cx="191.3" cy="1.22" rx="1.0" ry="0.44" fill="#a5342f" fill-opacity="0.62"/>
<ellipse cx="231.6" cy="10.75" rx="1.0" ry="0.58" fill="#cf837c" fill-opacity="0.19"/>
<ellipse cx="231.6" cy="10.75" rx="0.7" ry="0.29" fill="#a5342f" fill-opacity="0.63"/>
<ellipse cx="233.8" cy="23.25" rx="2.9" ry="0.60" fill="#cf837c" fill-opacity="0.11"/>
<ellipse cx="233.8" cy="23.25" rx="2.1" ry="0.30" fill="#a5342f" fill-opacity="0.36"/>
<ellipse cx="200.1" cy="5.27" rx="1.6" ry="0.33" fill="#cf837c" fill-opacity="0.09"/>
<ellipse cx="200.1" cy="5.27" rx="1.1" ry="0.17" fill="#a5342f" fill-opacity="0.30"/>
<ellipse cx="204.6" cy="3.15" rx="4.9" ry="0.38" fill="#cf837c" fill-opacity="0.23"/>
<ellipse cx="204.6" cy="3.15" rx="3.5" ry="0.19" fill="#a5342f" fill-opacity="0.78"/>
<ellipse cx="140.8" cy="0.72" rx="2.0" ry="0.82" fill="#cf837c" fill-opacity="0.12"/>
<ellipse cx="140.8" cy="0.72" rx="1.4" ry="0.41" fill="#a5342f" fill-opacity="0.40"/>
<ellipse cx="131.8" cy="18.41" rx="4.5" ry="0.82" fill="#cf837c" fill-opacity="0.10"/>
<ellipse cx="131.8" cy="18.41" rx="3.2" ry="0.41" fill="#a5342f" fill-opacity="0.35"/>
<ellipse cx="198.3" cy="16.90" rx="2.8" ry="0.95" fill="#cf837c" fill-opacity="0.13"/>
<ellipse cx="198.3" cy="16.90" rx="2.0" ry="0.48" fill="#a5342f" fill-opacity="0.44"/>
<ellipse cx="236.9" cy="17.08" rx="1.0" ry="0.33" fill="#cf837c" fill-opacity="0.20"/>
<ellipse cx="236.9" cy="17.08" rx="0.7" ry="0.17" fill="#a5342f" fill-opacity="0.66"/>
<ellipse cx="220.0" cy="2.16" rx="2.2" ry="0.82" fill="#cf837c" fill-opacity="0.12"/>
<ellipse cx="220.0" cy="2.16" rx="1.6" ry="0.41" fill="#a5342f" fill-opacity="0.39"/>
<ellipse cx="225.0" cy="11.68" rx="1.2" ry="0.57" fill="#cf837c" fill-opacity="0.18"/>
<ellipse cx="225.0" cy="11.68" rx="0.9" ry="0.28" fill="#a5342f" fill-opacity="0.62"/>
<ellipse cx="176.5" cy="16.14" rx="1.6" ry="0.86" fill="#cf837c" fill-opacity="0.15"/>
<ellipse cx="176.5" cy="16.14" rx="1.1" ry="0.43" fill="#a5342f" fill-opacity="0.50"/>
<ellipse cx="200.2" cy="15.04" rx="2.7" ry="0.58" fill="#cf837c" fill-opacity="0.22"/>
<ellipse cx="200.2" cy="15.04" rx="1.9" ry="0.29" fill="#a5342f" fill-opacity="0.73"/>
<ellipse cx="234.7" cy="18.66" rx="3.3" ry="0.52" fill="#cf837c" fill-opacity="0.10"/>
<ellipse cx="234.7" cy="18.66" rx="2.3" ry="0.26" fill="#a5342f" fill-opacity="0.33"/>
<ellipse cx="238.0" cy="16.76" rx="4.3" ry="0.55" fill="#cf837c" fill-opacity="0.19"/>
<ellipse cx="238.0" cy="16.76" rx="3.1" ry="0.27" fill="#a5342f" fill-opacity="0.63"/>
<ellipse cx="238.4" cy="19.75" rx="3.4" ry="0.53" fill="#cf837c" fill-opacity="0.16"/>
<ellipse cx="238.4" cy="19.75" rx="2.4" ry="0.26" fill="#a5342f" fill-opacity="0.54"/>
<ellipse cx="228.1" cy="9.11" rx="3.8" ry="0.73" fill="#cf837c" fill-opacity="0.24"/>
<ellipse cx="228.1" cy="9.11" rx="2.7" ry="0.36" fill="#a5342f" fill-opacity="0.79"/>
<ellipse cx="218.9" cy="6.93" rx="1.0" ry="0.50" fill="#cf837c" fill-opacity="0.16"/>
<ellipse cx="218.9" cy="6.93" rx="0.7" ry="0.25" fill="#a5342f" fill-opacity="0.53"/>
<ellipse cx="193.5" cy="19.39" rx="4.6" ry="0.35" fill="#cf837c" fill-opacity="0.23"/>
<ellipse cx="193.5" cy="19.39" rx="3.3" ry="0.17" fill="#a5342f" fill-opacity="0.76"/>
<ellipse cx="219.4" cy="20.59" rx="3.3" ry="0.51" fill="#cf837c" fill-opacity="0.23"/>
<ellipse cx="219.4" cy="20.59" rx="2.4" ry="0.25" fill="#a5342f" fill-opacity="0.77"/>
<ellipse cx="218.8" cy="16.32" rx="4.7" ry="0.56" fill="#cf837c" fill-opacity="0.10"/>
<ellipse cx="218.8" cy="16.32" rx="3.3" ry="0.28" fill="#a5342f" fill-opacity="0.35"/>
<ellipse cx="189.7" cy="18.96" rx="1.8" ry="0.83" fill="#cf837c" fill-opacity="0.24"/>
<ellipse cx="189.7" cy="18.96" rx="1.3" ry="0.42" fill="#a5342f" fill-opacity="0.81"/>
<ellipse cx="152.9" cy="14.50" rx="3.7" ry="0.64" fill="#cf837c" fill-opacity="0.12"/>
<ellipse cx="152.9" cy="14.50" rx="2.7" ry="0.32" fill="#a5342f" fill-opacity="0.41"/>
<ellipse cx="155.3" cy="17.88" rx="4.2" ry="0.63" fill="#cf837c" fill-opacity="0.10"/>
<ellipse cx="155.3" cy="17.88" rx="3.0" ry="0.32" fill="#a5342f" fill-opacity="0.35"/>
<ellipse cx="218.8" cy="18.37" rx="1.9" ry="0.71" fill="#cf837c" fill-opacity="0.24"/>
<ellipse cx="218.8" cy="18.37" rx="1.4" ry="0.36" fill="#a5342f" fill-opacity="0.79"/>
<ellipse cx="227.8" cy="12.51" rx="2.9" ry="0.72" fill="#cf837c" fill-opacity="0.12"/>
<ellipse cx="227.8" cy="12.51" rx="2.1" ry="0.36" fill="#a5342f" fill-opacity="0.40"/>
<ellipse cx="148.1" cy="4.53" rx="2.5" ry="0.70" fill="#cf837c" fill-opacity="0.16"/>
<ellipse cx="148.1" cy="4.53" rx="1.8" ry="0.35" fill="#a5342f" fill-opacity="0.52"/>
<ellipse cx="185.5" cy="3.79" rx="1.2" ry="1.00" fill="#cf837c" fill-opacity="0.15"/>
<ellipse cx="185.5" cy="3.79" rx="0.8" ry="0.50" fill="#a5342f" fill-opacity="0.51"/>
<ellipse cx="138.2" cy="15.11" rx="1.6" ry="0.73" fill="#cf837c" fill-opacity="0.15"/>
<ellipse cx="138.2" cy="15.11" rx="1.2" ry="0.36" fill="#a5342f" fill-opacity="0.49"/>
<ellipse cx="185.7" cy="0.78" rx="1.1" ry="0.99" fill="#cf837c" fill-opacity="0.23"/>
<ellipse cx="185.7" cy="0.78" rx="0.8" ry="0.50" fill="#a5342f" fill-opacity="0.78"/>
<ellipse cx="181.9" cy="13.57" rx="2.0" ry="0.85" fill="#cf837c" fill-opacity="0.16"/>
<ellipse cx="181.9" cy="13.57" rx="1.5" ry="0.42" fill="#a5342f" fill-opacity="0.53"/>
<ellipse cx="234.8" cy="18.25" rx="4.3" ry="0.98" fill="#cf837c" fill-opacity="0.13"/>
<ellipse cx="234.8" cy="18.25" rx="3.1" ry="0.49" fill="#a5342f" fill-opacity="0.44"/>
<ellipse cx="226.1" cy="11.02" rx="4.8" ry="0.94" fill="#cf837c" fill-opacity="0.10"/>
<ellipse cx="226.1" cy="11.02" rx="3.4" ry="0.47" fill="#a5342f" fill-opacity="0.34"/>
<ellipse cx="194.8" cy="9.60" rx="1.5" ry="0.97" fill="#cf837c" fill-opacity="0.13"/>
<ellipse cx="194.8" cy="9.60" rx="1.0" ry="0.49" fill="#a5342f" fill-opacity="0.44"/>
<ellipse cx="190.9" cy="15.29" rx="4.9" ry="0.78" fill="#cf837c" fill-opacity="0.15"/>
<ellipse cx="190.9" cy="15.29" rx="3.5" ry="0.39" fill="#a5342f" fill-opacity="0.52"/>
<ellipse cx="177.6" cy="4.04" rx="4.9" ry="0.99" fill="#cf837c" fill-opacity="0.13"/>
<ellipse cx="177.6" cy="4.04" rx="3.5" ry="0.50" fill="#a5342f" fill-opacity="0.42"/>
<ellipse cx="229.8" cy="21.47" rx="4.4" ry="0.35" fill="#cf837c" fill-opacity="0.22"/>
<ellipse cx="229.8" cy="21.47" rx="3.1" ry="0.18" fill="#a5342f" fill-opacity="0.73"/>
<ellipse cx="207.6" cy="15.43" rx="5.0" ry="0.36" fill="#cf837c" fill-opacity="0.11"/>
<ellipse cx="207.6" cy="15.43" rx="3.6" ry="0.18" fill="#a5342f" fill-opacity="0.38"/>
<ellipse cx="212.8" cy="22.28" rx="3.7" ry="0.52" fill="#cf837c" fill-opacity="0.19"/>
<ellipse cx="212.8" cy="22.28" rx="2.7" ry="0.26" fill="#a5342f" fill-opacity="0.63"/>
<ellipse cx="213.2" cy="2.77" rx="2.3" ry="0.49" fill="#cf837c" fill-opacity="0.11"/>
<ellipse cx="213.2" cy="2.77" rx="1.6" ry="0.25" fill="#a5342f" fill-opacity="0.37"/>
<ellipse cx="181.4" cy="4.24" rx="1.9" ry="0.42" fill="#cf837c" fill-opacity="0.20"/>
<ellipse cx="181.4" cy="4.24" rx="1.4" ry="0.21" fill="#a5342f" fill-opacity="0.67"/>
<ellipse cx="233.4" cy="20.58" rx="4.6" ry="0.42" fill="#cf837c" fill-opacity="0.16"/>
<ellipse cx="233.4" cy="20.58" rx="3.3" ry="0.21" fill="#a5342f" fill-opacity="0.55"/>
<ellipse cx="137.2" cy="22.03" rx="3.5" ry="0.63" fill="#cf837c" fill-opacity="0.15"/>
<ellipse cx="137.2" cy="22.03" rx="2.5" ry="0.31" fill="#a5342f" fill-opacity="0.49"/>
<ellipse cx="220.7" cy="11.47" rx="3.5" ry="0.42" fill="#cf837c" fill-opacity="0.13"/>
<ellipse cx="220.7" cy="11.47" rx="2.5" ry="0.21" fill="#a5342f" fill-opacity="0.42"/>
<ellipse cx="173.4" cy="3.94" rx="2.1" ry="0.89" fill="#cf837c" fill-opacity="0.15"/>
<ellipse cx="173.4" cy="3.94" rx="1.5" ry="0.45" fill="#a5342f" fill-opacity="0.48"/>
<ellipse cx="229.9" cy="2.97" rx="5.0" ry="0.36" fill="#cf837c" fill-opacity="0.24"/>
<ellipse cx="229.9" cy="2.97" rx="3.5" ry="0.18" fill="#a5342f" fill-opacity="0.79"/>
<ellipse cx="202.9" cy="5.24" rx="2.9" ry="0.51" fill="#cf837c" fill-opacity="0.13"/>
<ellipse cx="202.9" cy="5.24" rx="2.1" ry="0.26" fill="#a5342f" fill-opacity="0.44"/>
<ellipse cx="149.2" cy="8.82" rx="5.0" ry="0.95" fill="#cf837c" fill-opacity="0.11"/>
<ellipse cx="149.2" cy="8.82" rx="3.6" ry="0.47" fill="#a5342f" fill-opacity="0.35"/>
<ellipse cx="159.3" cy="21.27" rx="1.2" ry="0.81" fill="#cf837c" fill-opacity="0.14"/>
<ellipse cx="159.3" cy="21.27" rx="0.9" ry="0.41" fill="#a5342f" fill-opacity="0.46"/>
<ellipse cx="238.5" cy="0.68" rx="4.3" ry="0.55" fill="#cf837c" fill-opacity="0.11"/>
<ellipse cx="238.5" cy="0.68" rx="3.0" ry="0.28" fill="#a5342f" fill-opacity="0.38"/>
<ellipse cx="147.4" cy="10.48" rx="1.9" ry="0.71" fill="#cf837c" fill-opacity="0.11"/>
<ellipse cx="147.4" cy="10.48" rx="1.3" ry="0.35" fill="#a5342f" fill-opacity="0.38"/>
<ellipse cx="146.7" cy="18.33" rx="1.8" ry="0.37" fill="#cf837c" fill-opacity="0.10"/>
<ellipse cx="146.7" cy="18.33" rx="1.3" ry="0.19" fill="#a5342f" fill-opacity="0.35"/>
<ellipse cx="196.0" cy="11.89" rx="2.1" ry="0.46" fill="#cf837c" fill-opacity="0.19"/>
<ellipse cx="196.0" cy="11.89" rx="1.5" ry="0.23" fill="#a5342f" fill-opacity="0.64"/>
<ellipse cx="207.4" cy="19.29" rx="3.3" ry="0.46" fill="#cf837c" fill-opacity="0.10"/>
<ellipse cx="207.4" cy="19.29" rx="2.4" ry="0.23" fill="#a5342f" fill-opacity="0.34"/>
<ellipse cx="210.3" cy="9.85" rx="3.9" ry="0.36" fill="#cf837c" fill-opacity="0.22"/>
<ellipse cx="210.3" cy="9.85" rx="2.8" ry="0.18" fill="#a5342f" fill-opacity="0.75"/>
<ellipse cx="164.6" cy="20.00" rx="4.5" ry="0.66" fill="#cf837c" fill-opacity="0.09"/>
<ellipse cx="164.6" cy="20.00" rx="3.2" ry="0.33" fill="#a5342f" fill-opacity="0.31"/>
<ellipse cx="230.7" cy="11.45" rx="4.5" ry="0.50" fill="#cf837c" fill-opacity="0.12"/>
<ellipse cx="230.7" cy="11.45" rx="3.2" ry="0.25" fill="#a5342f" fill-opacity="0.40"/>
<ellipse cx="221.6" cy="8.89" rx="1.6" ry="0.57" fill="#cf837c" fill-opacity="0.19"/>
<ellipse cx="221.6" cy="8.89" rx="1.2" ry="0.29" fill="#a5342f" fill-opacity="0.63"/>
<ellipse cx="185.3" cy="3.13" rx="3.9" ry="0.88" fill="#cf837c" fill-opacity="0.23"/>
<ellipse cx="185.3" cy="3.13" rx="2.8" ry="0.44" fill="#a5342f" fill-opacity="0.78"/>
<ellipse cx="162.9" cy="16.94" rx="2.5" ry="0.83" fill="#cf837c" fill-opacity="0.10"/>
<ellipse cx="162.9" cy="16.94" rx="1.8" ry="0.42" fill="#a5342f" fill-opacity="0.33"/>
<ellipse cx="226.4" cy="22.62" rx="3.0" ry="0.67" fill="#cf837c" fill-opacity="0.18"/>
<ellipse cx="226.4" cy="22.62" rx="2.1" ry="0.33" fill="#a5342f" fill-opacity="0.59"/>
<ellipse cx="187.8" cy="0.78" rx="4.9" ry="0.47" fill="#cf837c" fill-opacity="0.12"/>
<ellipse cx="187.8" cy="0.78" rx="3.5" ry="0.24" fill="#a5342f" fill-opacity="0.40"/>
<ellipse cx="137.8" cy="6.16" rx="1.1" ry="0.39" fill="#cf837c" fill-opacity="0.21"/>
<ellipse cx="137.8" cy="6.16" rx="0.8" ry="0.19" fill="#a5342f" fill-opacity="0.68"/>
<ellipse cx="192.3" cy="12.54" rx="3.8" ry="0.39" fill="#cf837c" fill-opacity="0.23"/>
<ellipse cx="192.3" cy="12.54" rx="2.7" ry="0.19" fill="#a5342f" fill-opacity="0.78"/>
<ellipse cx="208.5" cy="1.36" rx="1.5" ry="0.66" fill="#cf837c" fill-opacity="0.17"/>
<ellipse cx="208.5" cy="1.36" rx="1.1" ry="0.33" fill="#a5342f" fill-opacity="0.58"/>
<ellipse cx="158.2" cy="3.16" rx="2.6" ry="0.41" fill="#cf837c" fill-opacity="0.19"/>
<ellipse cx="158.2" cy="3.16" rx="1.9" ry="0.21" fill="#a5342f" fill-opacity="0.63"/>
<ellipse cx="225.0" cy="3.74" rx="3.3" ry="0.83" fill="#cf837c" fill-opacity="0.12"/>
<ellipse cx="225.0" cy="3.74" rx="2.4" ry="0.41" fill="#a5342f" fill-opacity="0.39"/>
<ellipse cx="221.0" cy="22.24" rx="2.6" ry="0.61" fill="#cf837c" fill-opacity="0.23"/>
<ellipse cx="221.0" cy="22.24" rx="1.8" ry="0.30" fill="#a5342f" fill-opacity="0.76"/>
<ellipse cx="186.4" cy="9.56" rx="4.8" ry="0.85" fill="#cf837c" fill-opacity="0.15"/>
<ellipse cx="186.4" cy="9.56" rx="3.4" ry="0.42" fill="#a5342f" fill-opacity="0.49"/>
<ellipse cx="153.6" cy="8.14" rx="2.7" ry="0.99" fill="#cf837c" fill-opacity="0.22"/>
<ellipse cx="153.6" cy="8.14" rx="2.0" ry="0.49" fill="#a5342f" fill-opacity="0.74"/>
<ellipse cx="231.0" cy="19.37" rx="4.4" ry="0.36" fill="#cf837c" fill-opacity="0.18"/>
<ellipse cx="231.0" cy="19.37" rx="3.2" ry="0.18" fill="#a5342f" fill-opacity="0.58"/>
<ellipse cx="236.2" cy="22.16" rx="2.0" ry="0.61" fill="#cf837c" fill-opacity="0.19"/>
<ellipse cx="236.2" cy="22.16" rx="1.4" ry="0.30" fill="#a5342f" fill-opacity="0.65"/>
<ellipse cx="167.9" cy="12.72" rx="1.3" ry="0.61" fill="#cf837c" fill-opacity="0.17"/>
<ellipse cx="167.9" cy="12.72" rx="0.9" ry="0.31" fill="#a5342f" fill-opacity="0.58"/>
<ellipse cx="128.4" cy="3.56" rx="4.1" ry="0.96" fill="#cf837c" fill-opacity="0.19"/>
<ellipse cx="128.4" cy="3.56" rx="3.0" ry="0.48" fill="#a5342f" fill-opacity="0.65"/>
<ellipse cx="219.1" cy="20.99" rx="4.6" ry="0.34" fill="#cf837c" fill-opacity="0.20"/>
<ellipse cx="219.1" cy="20.99" rx="3.3" ry="0.17" fill="#a5342f" fill-opacity="0.65"/>
<ellipse cx="156.6" cy="16.18" rx="2.1" ry="0.69" fill="#cf837c" fill-opacity="0.24"/>
<ellipse cx="156.6" cy="16.18" rx="1.5" ry="0.34" fill="#a5342f" fill-opacity="0.81"/>
<ellipse cx="197.4" cy="6.16" rx="3.1" ry="0.61" fill="#cf837c" fill-opacity="0.25"/>
<ellipse cx="197.4" cy="6.16" rx="2.2" ry="0.31" fill="#a5342f" fill-opacity="0.82"/>
<ellipse cx="159.1" cy="7.45" rx="3.6" ry="0.40" fill="#cf837c" fill-opacity="0.19"/>
<ellipse cx="159.1" cy="7.45" rx="2.6" ry="0.20" fill="#a5342f" fill-opacity="0.63"/>
<ellipse cx="235.9" cy="12.32" rx="2.1" ry="0.64" fill="#cf837c" fill-opacity="0.18"/>
<ellipse cx="235.9" cy="12.32" rx="1.5" ry="0.32" fill="#a5342f" fill-opacity="0.59"/>
<ellipse cx="159.8" cy="9.81" rx="2.2" ry="0.49" fill="#cf837c" fill-opacity="0.10"/>
<ellipse cx="159.8" cy="9.81" rx="1.5" ry="0.24" fill="#a5342f" fill-opacity="0.35"/>
<ellipse cx="188.8" cy="19.95" rx="3.5" ry="0.71" fill="#cf837c" fill-opacity="0.20"/>
<ellipse cx="188.8" cy="19.95" rx="2.5" ry="0.35" fill="#a5342f" fill-opacity="0.66"/>
<ellipse cx="189.0" cy="14.64" rx="2.9" ry="0.53" fill="#cf837c" fill-opacity="0.13"/>
<ellipse cx="189.0" cy="14.64" rx="2.1" ry="0.27" fill="#a5342f" fill-opacity="0.43"/>
<ellipse cx="151.5" cy="12.29" rx="2.5" ry="0.72" fill="#cf837c" fill-opacity="0.09"/>
<ellipse cx="151.5" cy="12.29" rx="1.8" ry="0.36" fill="#a5342f" fill-opacity="0.31"/>
<ellipse cx="166.6" cy="20.47" rx="1.9" ry="0.70" fill="#cf837c" fill-opacity="0.17"/>
<ellipse cx="166.6" cy="20.47" rx="1.4" ry="0.35" fill="#a5342f" fill-opacity="0.57"/>
<ellipse cx="158.8" cy="23.41" rx="2.2" ry="0.85" fill="#cf837c" fill-opacity="0.12"/>
<ellipse cx="158.8" cy="23.41" rx="1.6" ry="0.42" fill="#a5342f" fill-opacity="0.39"/>
<ellipse cx="210.6" cy="2.86" rx="1.9" ry="0.97" fill="#cf837c" fill-opacity="0.21"/>
<ellipse cx="210.6" cy="2.86" rx="1.4" ry="0.49" fill="#a5342f" fill-opacity="0.71"/>
<ellipse cx="203.7" cy="14.72" rx="4.4" ry="0.88" fill="#cf837c" fill-opacity="0.18"/>
<ellipse cx="203.7" cy="14.72" rx="3.2" ry="0.44" fill="#a5342f" fill-opacity="0.58"/>
<ellipse cx="211.0" cy="17.69" rx="4.1" ry="0.64" fill="#cf837c" fill-opacity="0.22"/>
<ellipse cx="211.0" cy="17.69" rx="2.9" ry="0.32" fill="#a5342f" fill-opacity="0.73"/>
<ellipse cx="207.5" cy="21.70" rx="1.5" ry="0.91" fill="#cf837c" fill-opacity="0.09"/>
<ellipse cx="207.5" cy="21.70" rx="1.1" ry="0.46" fill="#a5342f" fill-opacity="0.30"/>
<ellipse cx="214.1" cy="14.01" rx="3.0" ry="0.97" fill="#cf837c" fill-opacity="0.18"/>
<ellipse cx="214.1" cy="14.01" rx="2.1" ry="0.49" fill="#a5342f" fill-opacity="0.61"/>
<ellipse cx="174.1" cy="18.64" rx="4.5" ry="0.73" fill="#cf837c" fill-opacity="0.15"/>
<ellipse cx="174.1" cy="18.64" rx="3.2" ry="0.37" fill="#a5342f" fill-opacity="0.51"/>
<ellipse cx="178.0" cy="11.01" rx="3.9" ry="0.52" fill="#cf837c" fill-opacity="0.15"/>
<ellipse cx="178.0" cy="11.01" rx="2.8" ry="0.26" fill="#a5342f" fill-opacity="0.51"/>
<ellipse cx="189.9" cy="9.30" rx="2.3" ry="0.86" fill="#cf837c" fill-opacity="0.23"/>
<ellipse cx="189.9" cy="9.30" rx="1.6" ry="0.43" fill="#a5342f" fill-opacity="0.77"/>
<ellipse cx="183.4" cy="10.69" rx="1.7" ry="0.53" fill="#cf837c" fill-opacity="0.11"/>
<ellipse cx="183.4" cy="10.69" rx="1.2" ry="0.26" fill="#a5342f" fill-opacity="0.38"/>
<ellipse cx="192.2" cy="13.91" rx="1.3" ry="0.95" fill="#cf837c" fill-opacity="0.14"/>
<ellipse cx="192.2" cy="13.91" rx="1.0" ry="0.47" fill="#a5342f" fill-opacity="0.48"/>
<ellipse cx="223.0" cy="19.91" rx="4.9" ry="0.46" fill="#cf837c" fill-opacity="0.16"/>
<ellipse cx="223.0" cy="19.91" rx="3.5" ry="0.23" fill="#a5342f" fill-opacity="0.53"/>
<ellipse cx="230.7" cy="0.55" rx="1.2" ry="0.70" fill="#cf837c" fill-opacity="0.17"/>
<ellipse cx="230.7" cy="0.55" rx="0.8" ry="0.35" fill="#a5342f" fill-opacity="0.57"/>
<ellipse cx="231.8" cy="18.40" rx="3.2" ry="1.00" fill="#cf837c" fill-opacity="0.18"/>
<ellipse cx="231.8" cy="18.40" rx="2.3" ry="0.50" fill="#a5342f" fill-opacity="0.58"/>
<ellipse cx="185.5" cy="16.33" rx="2.6" ry="0.56" fill="#cf837c" fill-opacity="0.19"/>
<ellipse cx="185.5" cy="16.33" rx="1.8" ry="0.28" fill="#a5342f" fill-opacity="0.63"/>
<ellipse cx="166.4" cy="22.48" rx="3.7" ry="0.68" fill="#cf837c" fill-opacity="0.11"/>
<ellipse cx="166.4" cy="22.48" rx="2.7" ry="0.34" fill="#a5342f" fill-opacity="0.35"/>
<ellipse cx="169.1" cy="9.68" rx="3.3" ry="0.71" fill="#cf837c" fill-opacity="0.24"/>
<ellipse cx="169.1" cy="9.68" rx="2.3" ry="0.36" fill="#a5342f" fill-opacity="0.78"/>
<ellipse cx="236.9" cy="11.69" rx="2.8" ry="0.74" fill="#cf837c" fill-opacity="0.25"/>
<ellipse cx="236.9" cy="11.69" rx="2.0" ry="0.37" fill="#a5342f" fill-opacity="0.85"/>
<ellipse cx="165.5" cy="12.71" rx="4.3" ry="0.44" fill="#cf837c" fill-opacity="0.14"/>
<ellipse cx="165.5" cy="12.71" rx="3.1" ry="0.22" fill="#a5342f" fill-opacity="0.47"/>
<ellipse cx="238.5" cy="19.63" rx="3.1" ry="0.40" fill="#cf837c" fill-opacity="0.24"/>
<ellipse cx="238.5" cy="19.63" rx="2.2" ry="0.20" fill="#a5342f" fill-opacity="0.79"/>
<ellipse cx="205.3" cy="19.50" rx="5.0" ry="0.92" fill="#cf837c" fill-opacity="0.16"/>
<ellipse cx="205.3" cy="19.50" rx="3.6" ry="0.46" fill="#a5342f" fill-opacity="0.53"/>
<ellipse cx="184.1" cy="4.70" rx="1.7" ry="0.75" fill="#cf837c" fill-opacity="0.19"/>
<ellipse cx="184.1" cy="4.70" rx="1.2" ry="0.37" fill="#a5342f" fill-opacity="0.63"/>
<ellipse cx="166.6" cy="23.55" rx="3.6" ry="0.35" fill="#cf837c" fill-opacity="0.16"/>
<ellipse cx="166.6" cy="23.55" rx="2.5" ry="0.17" fill="#a5342f" fill-opacity="0.53"/>
<ellipse cx="216.6" cy="7.48" rx="3.8" ry="0.32" fill="#cf837c" fill-opacity="0.14"/>
<ellipse cx="216.6" cy="7.48" rx="2.7" ry="0.16" fill="#a5342f" fill-opacity="0.47"/>
<ellipse cx="222.8" cy="14.02" rx="3.7" ry="0.45" fill="#cf837c" fill-opacity="0.17"/>
<ellipse cx="222.8" cy="14.02" rx="2.6" ry="0.23" fill="#a5342f" fill-opacity="0.57"/>
<ellipse cx="189.6" cy="6.52" rx="3.6" ry="0.68" fill="#cf837c" fill-opacity="0.25"/>
<ellipse cx="189.6" cy="6.52" rx="2.6" ry="0.34" fill="#a5342f" fill-opacity="0.85"/>
<ellipse cx="192.1" cy="9.92" rx="1.5" ry="0.43" fill="#cf837c" fill-opacity="0.22"/>
<ellipse cx="192.1" cy="9.92" rx="1.1" ry="0.21" fill="#a5342f" fill-opacity="0.72"/>
<ellipse cx="186.1" cy="19.56" rx="3.5" ry="0.87" fill="#cf837c" fill-opacity="0.10"/>
<ellipse cx="186.1" cy="19.56" rx="2.5" ry="0.43" fill="#a5342f" fill-opacity="0.33"/>
<ellipse cx="208.3" cy="8.58" rx="1.7" ry="0.50" fill="#cf837c" fill-opacity="0.11"/>
<ellipse cx="208.3" cy="8.58" rx="1.2" ry="0.25" fill="#a5342f" fill-opacity="0.35"/>
<ellipse cx="229.9" cy="13.92" rx="2.4" ry="0.63" fill="#cf837c" fill-opacity="0.15"/>
<ellipse cx="229.9" cy="13.92" rx="1.7" ry="0.31" fill="#a5342f" fill-opacity="0.51"/>
<ellipse cx="236.4" cy="10.59" rx="3.5" ry="0.49" fill="#cf837c" fill-opacity="0.10"/>
<ellipse cx="236.4" cy="10.59" rx="2.5" ry="0.24" fill="#a5342f" fill-opacity="0.32"/>
<ellipse cx="233.0" cy="20.30" rx="2.3" ry="0.93" fill="#cf837c" fill-opacity="0.22"/>
<ellipse cx="233.0" cy="20.30" rx="1.6" ry="0.47" fill="#a5342f" fill-opacity="0.75"/>
<ellipse cx="160.9" cy="14.40" rx="4.9" ry="0.66" fill="#cf837c" fill-opacity="0.25"/>
<ellipse cx="160.9" cy="14.40" rx="3.5" ry="0.33" fill="#a5342f" fill-opacity="0.82"/>
<ellipse cx="153.9" cy="9.42" rx="3.9" ry="0.47" fill="#cf837c" fill-opacity="0.14"/>
<ellipse cx="153.9" cy="9.42" rx="2.8" ry="0.24" fill="#a5342f" fill-opacity="0.47"/>
<ellipse cx="226.7" cy="11.63" rx="4.2" ry="0.49" fill="#cf837c" fill-opacity="0.12"/>
<ellipse cx="226.7" cy="11.63" rx="3.0" ry="0.24" fill="#a5342f" fill-opacity="0.40"/>
<ellipse cx="167.2" cy="4.67" rx="4.9" ry="0.52" fill="#cf837c" fill-opacity="0.18"/>
<ellipse cx="167.2" cy="4.67" rx="3.5" ry="0.26" fill="#a5342f" fill-opacity="0.61"/>
<ellipse cx="172.4" cy="1.83" rx="1.5" ry="0.88" fill="#cf837c" fill-opacity="0.15"/>
<ellipse cx="172.4" cy="1.83" rx="1.1" ry="0.44" fill="#a5342f" fill-opacity="0.49"/>
<ellipse cx="154.2" cy="4.77" rx="2.1" ry="0.48" fill="#cf837c" fill-opacity="0.10"/>
<ellipse cx="154.2" cy="4.77" rx="1.5" ry="0.24" fill="#a5342f" fill-opacity="0.32"/>
<ellipse cx="202.4" cy="8.29" rx="1.6" ry="0.80" fill="#cf837c" fill-opacity="0.11"/>
<ellipse cx="202.4" cy="8.29" rx="1.2" ry="0.40" fill="#a5342f" fill-opacity="0.35"/>
<ellipse cx="157.0" cy="19.84" rx="1.5" ry="0.62" fill="#cf837c" fill-opacity="0.23"/>
<ellipse cx="157.0" cy="19.84" rx="1.1" ry="0.31" fill="#a5342f" fill-opacity="0.76"/>
<ellipse cx="218.6" cy="4.03" rx="2.4" ry="0.81" fill="#cf837c" fill-opacity="0.15"/>
<ellipse cx="218.6" cy="4.03" rx="1.7" ry="0.41" fill="#a5342f" fill-opacity="0.51"/>
<ellipse cx="236.2" cy="5.17" rx="4.8" ry="0.66" fill="#cf837c" fill-opacity="0.13"/>
<ellipse cx="236.2" cy="5.17" rx="3.5" ry="0.33" fill="#a5342f" fill-opacity="0.43"/>
</g></g></g></g>
<line x1="297.3" y1="239.6" x2="846.4" y2="89.3" stroke="#3a5073" stroke-width="1.95" stroke-linecap="round" />
<line x1="289.6" y1="234.6" x2="297.6" y2="239.5" stroke="#000" stroke-width="2.2"/>
<line x1="424.2" y1="198.9" x2="431.7" y2="203.2" stroke="#000" stroke-width="2.2"/>
<line x1="566.0" y1="160.1" x2="572.8" y2="164.2" stroke="#000" stroke-width="2.2"/>
<line x1="692.2" y1="124.5" x2="699.9" y2="128.6" stroke="#000" stroke-width="2.2"/>
<line x1="840.0" y1="84.4" x2="846.9" y2="88.8" stroke="#000" stroke-width="2.2"/>
<line x1="246.3" y1="188.5" x2="796.9" y2="30.8" stroke="#000" stroke-width="2.30" stroke-linecap="round" />
<line x1="246.3" y1="188.5" x2="289.6" y2="220.2" stroke="#000" stroke-width="2.70" stroke-linecap="round" />
<line x1="796.9" y1="30.8" x2="841.2" y2="63.1" stroke="#000" stroke-width="2.70" stroke-linecap="round" />
<line x1="246.3" y1="188.5" x2="246.3" y2="201.9" stroke="#000" stroke-width="2.50" stroke-linecap="round" />
<line x1="289.6" y1="220.2" x2="289.6" y2="234.6" stroke="#000" stroke-width="2.50" stroke-linecap="round" />
<line x1="796.9" y1="30.8" x2="796.9" y2="48.1" stroke="#000" stroke-width="2.50" stroke-linecap="round" />
<line x1="841.2" y1="63.1" x2="841.2" y2="79.8" stroke="#000" stroke-width="2.50" stroke-linecap="round" />
<polygon points="555.6,70.6 607.0,106.7 607.0,150.8 555.6,113.5" fill="#d2d2d2" fill-opacity="0.86" stroke="#000" stroke-width="2.5" stroke-linejoin="miter"/>
<line x1="289.6" y1="220.2" x2="841.2" y2="63.1" stroke="#000" stroke-width="2.30" stroke-linecap="round" />
<path d="M554.2 60.1L738.0 6.4M725.6 1.8L738.3 6.3L728.8 14.6" fill="none" stroke="#000" stroke-width="2.6" stroke-linecap="round" stroke-linejoin="miter"/>
<line x1="277.9" y1="258.9" x2="293.7" y2="258.9" stroke="#111" stroke-width="1.45"/>
<text x="296.1" y="265.6" font-size="24.6" text-anchor="start">12</text>
<line x1="415.4" y1="224.7" x2="430.8" y2="224.7" stroke="#111" stroke-width="1.45"/>
<text x="433.1" y="231.6" font-size="24.6" text-anchor="start">6</text>
<text x="570.1" y="191.6" font-size="24.6" text-anchor="start">0</text>
<text x="699.2" y="153.7" font-size="24.6" text-anchor="start">6</text>
<text x="841.0" y="113.5" font-size="24.6" text-anchor="start">12</text>
<g transform="translate(539.1 235.7) rotate(-16.64)">
<text x="-9.33" y="0.00" font-size="28.00">(</text>
<text x="0.34" y="0.00" font-size="28.00" font-style="italic">x</text>
<line x1="23.8" y1="-7.0" x2="42.1" y2="-7.0" stroke="#111" stroke-width="1.5"/>
<text x="52.14" y="0.00" font-size="28.00" font-style="italic">x</text>
<text x="64.58" y="4.90" font-size="18.00">R</text>
<text x="75.20" y="4.90" font-size="18.00">S</text>
<text x="87.95" y="0.00" font-size="28.00">)</text>
<line x1="100.8" y1="5.8" x2="109.4" y2="-19.0" stroke="#111" stroke-width="1.5"/>
<text x="112.29" y="0.00" font-size="28.00" font-style="italic">h</text>
</g>
<g id="chartA">
<line x1="153.29" y1="314.5" x2="153.29" y2="594.5" stroke="#b4b4b4" stroke-width="1.5" stroke-dasharray="1.3 1.96"/>
<line x1="192.42" y1="314.5" x2="192.42" y2="594.5" stroke="#b4b4b4" stroke-width="1.5" stroke-dasharray="1.3 1.96"/>
<line x1="220.18" y1="314.5" x2="220.18" y2="594.5" stroke="#b4b4b4" stroke-width="1.5" stroke-dasharray="1.3 1.96"/>
<line x1="241.71" y1="314.5" x2="241.71" y2="594.5" stroke="#b4b4b4" stroke-width="1.5" stroke-dasharray="1.3 1.96"/>
<line x1="259.31" y1="314.5" x2="259.31" y2="594.5" stroke="#b4b4b4" stroke-width="1.5" stroke-dasharray="1.3 1.96"/>
<line x1="274.18" y1="314.5" x2="274.18" y2="594.5" stroke="#b4b4b4" stroke-width="1.5" stroke-dasharray="1.3 1.96"/>
<line x1="287.07" y1="314.5" x2="287.07" y2="594.5" stroke="#b4b4b4" stroke-width="1.5" stroke-dasharray="1.3 1.96"/>
<line x1="298.43" y1="314.5" x2="298.43" y2="594.5" stroke="#b4b4b4" stroke-width="1.5" stroke-dasharray="1.3 1.96"/>
<line x1="375.49" y1="314.5" x2="375.49" y2="594.5" stroke="#b4b4b4" stroke-width="1.5" stroke-dasharray="1.3 1.96"/>
<line x1="414.62" y1="314.5" x2="414.62" y2="594.5" stroke="#b4b4b4" stroke-width="1.5" stroke-dasharray="1.3 1.96"/>
<line x1="442.38" y1="314.5" x2="442.38" y2="594.5" stroke="#b4b4b4" stroke-width="1.5" stroke-dasharray="1.3 1.96"/>
<line x1="463.91" y1="314.5" x2="463.91" y2="594.5" stroke="#b4b4b4" stroke-width="1.5" stroke-dasharray="1.3 1.96"/>
<line x1="481.51" y1="314.5" x2="481.51" y2="594.5" stroke="#b4b4b4" stroke-width="1.5" stroke-dasharray="1.3 1.96"/>
<line x1="496.38" y1="314.5" x2="496.38" y2="594.5" stroke="#b4b4b4" stroke-width="1.5" stroke-dasharray="1.3 1.96"/>
<line x1="509.27" y1="314.5" x2="509.27" y2="594.5" stroke="#b4b4b4" stroke-width="1.5" stroke-dasharray="1.3 1.96"/>
<line x1="520.63" y1="314.5" x2="520.63" y2="594.5" stroke="#b4b4b4" stroke-width="1.5" stroke-dasharray="1.3 1.96"/>
<line x1="308.60" y1="314.5" x2="308.60" y2="594.5" stroke="#d6d6d6" stroke-width="1.1"/>
<line x1="86.4" y1="554.50" x2="530.8" y2="554.50" stroke="#d6d6d6" stroke-width="1.1"/>
<line x1="86.4" y1="514.50" x2="530.8" y2="514.50" stroke="#d6d6d6" stroke-width="1.1"/>
<line x1="86.4" y1="474.50" x2="530.8" y2="474.50" stroke="#d6d6d6" stroke-width="1.1"/>
<line x1="86.4" y1="434.50" x2="530.8" y2="434.50" stroke="#d6d6d6" stroke-width="1.1"/>
<line x1="86.4" y1="394.50" x2="530.8" y2="394.50" stroke="#d6d6d6" stroke-width="1.1"/>
<line x1="86.4" y1="354.50" x2="530.8" y2="354.50" stroke="#d6d6d6" stroke-width="1.1"/>
<clipPath id="clipA"><rect x="86.4" y="313.5" width="450.4" height="282.0"/></clipPath>
<g clip-path="url(#clipA)">
<path d="M86.2 594.5 L87.1 593.6 L88.2 592.5 L89.2 591.5 L90.2 590.5 L91.2 589.6 L92.2 588.6 L93.2 587.6 L94.2 586.7 L95.2 585.7 L96.2 584.8 L97.2 583.8 L98.2 582.9 L99.2 582.0 L100.2 581.1 L101.2 580.1 L102.2 579.2 L103.2 578.3 L104.2 577.4 L105.2 576.5 L106.2 575.6 L107.2 574.8 L108.2 573.9 L109.2 573.0 L110.2 572.1 L111.2 571.3 L112.2 570.4 L113.2 569.6 L114.2 568.7 L115.2 567.9 L116.2 567.1 L117.2 566.2 L118.2 565.4 L119.2 564.6 L120.2 563.8 L121.2 563.0 L122.2 562.2 L123.2 561.4 L124.2 560.6 L125.2 559.8 L126.2 559.0 L127.2 558.2 L128.2 557.4 L129.2 556.7 L130.2 555.9 L131.2 555.2 L132.2 554.4 L133.2 553.7 L134.2 552.9 L135.2 552.2 L136.2 551.4 L137.2 550.7 L138.2 550.0 L139.2 549.3 L140.2 548.6 L141.2 547.8 L142.2 547.1 L143.2 546.4 L144.2 545.7 L145.2 545.1 L146.2 544.4 L147.2 543.7 L148.2 543.0 L149.2 542.3 L150.2 541.7 L151.2 541.0 L152.2 540.4 L153.2 539.7 L154.2 539.1 L155.2 538.4 L156.2 537.8 L157.2 537.1 L158.2 536.5 L159.2 535.9 L160.2 535.3 L161.2 534.7 L162.2 534.0 L163.2 533.4 L164.2 532.8 L165.2 532.2 L166.2 531.6 L167.2 531.0 L168.2 530.5 L169.2 529.9 L170.2 529.3 L171.2 528.7 L172.2 528.2 L173.2 527.6 L174.2 527.0 L175.2 526.5 L176.2 525.9 L177.2 525.4 L178.2 524.8 L179.2 524.3 L180.2 523.8 L181.2 523.2 L182.2 522.7 L183.2 522.2 L184.2 521.7 L185.2 521.1 L186.2 520.6 L187.2 520.1 L188.2 519.6 L189.2 519.1 L190.2 518.6 L191.2 518.1 L192.2 517.6 L193.2 517.2 L194.2 516.7 L195.2 516.2 L196.2 515.7 L197.2 515.2 L198.2 514.8 L199.2 514.3 L200.2 513.8 L201.2 513.4 L202.2 512.9 L203.2 512.4 L204.2 512.0 L205.2 511.5 L206.2 511.1 L207.2 510.6 L208.2 510.2 L209.2 509.7 L210.2 509.3 L211.2 508.8 L212.2 508.4 L213.2 507.9 L214.2 507.5 L215.2 507.0 L216.2 506.6 L217.2 506.1 L218.2 505.7 L219.2 505.3 L220.2 504.8 L221.2 504.4 L222.2 503.9 L223.2 503.5 L224.2 503.0 L225.2 502.6 L226.2 502.1 L227.2 501.7 L228.2 501.2 L229.2 500.8 L230.2 500.4 L231.2 499.9 L232.2 499.4 L233.2 499.0 L234.2 498.5 L235.2 498.1 L236.2 497.6 L237.2 497.2 L238.2 496.7 L239.2 496.2 L240.2 495.8 L241.2 495.3 L242.2 494.8 L243.2 494.4 L244.2 493.9 L245.2 493.4 L246.2 492.9 L247.2 492.4 L248.2 491.9 L249.2 491.4 L250.2 490.9 L251.2 490.4 L252.2 489.9 L253.2 489.4 L254.2 488.9 L255.2 488.4 L256.2 487.9 L257.2 487.4 L258.2 486.8 L259.2 486.3 L260.2 485.8 L261.2 485.2 L262.2 484.7 L263.2 484.1 L264.2 483.6 L265.2 483.0 L266.2 482.4 L267.2 481.9 L268.2 481.3 L269.2 480.7 L270.2 480.1 L271.2 479.5 L272.2 478.9 L273.2 478.3 L274.2 477.7 L275.2 477.1 L276.2 476.5 L277.2 475.8 L278.2 475.2 L279.2 474.6 L280.2 473.9 L281.2 473.3 L282.2 472.6 L283.2 471.9 L284.2 471.3 L285.2 470.6 L286.2 469.9 L287.2 469.2 L288.2 468.5 L289.2 467.8 L290.2 467.1 L291.2 466.4 L292.2 465.7 L293.2 465.0 L294.2 464.3 L295.2 463.5 L296.2 462.8 L297.2 462.1 L298.2 461.3 L299.2 460.6 L300.2 459.8 L301.2 459.1 L302.2 458.3 L303.2 457.5 L304.2 456.8 L305.2 456.0 L306.2 455.2 L307.2 454.4 L308.2 453.6 L309.2 452.8 L310.2 452.0 L311.2 451.2 L312.2 450.4 L313.2 449.6 L314.2 448.8 L315.2 447.9 L316.2 447.1 L317.2 446.3 L318.2 445.4 L319.2 444.6 L320.2 443.7 L321.2 442.9 L322.2 442.0 L323.2 441.2 L324.2 440.3 L325.2 439.4 L326.2 438.5 L327.2 437.7 L328.2 436.8 L329.2 435.9 L330.2 435.0 L331.2 434.1 L332.2 433.2 L333.2 432.3 L334.2 431.4 L335.2 430.5 L336.2 429.6 L337.2 428.6 L338.2 427.7 L339.2 426.8 L340.2 425.9 L341.2 424.9 L342.2 424.0 L343.2 423.0 L344.2 422.1 L345.2 421.1 L346.2 420.2 L347.2 419.2 L348.2 418.3 L349.2 417.3 L350.2 416.3 L351.2 415.3 L352.2 414.4 L353.2 413.4 L354.2 412.4 L355.2 411.4 L356.2 410.4 L357.2 409.4 L358.2 408.4 L359.2 407.4 L360.2 406.4 L361.2 405.4 L362.2 404.4 L363.2 403.4 L364.2 402.4 L365.2 401.4 L366.2 400.4 L367.2 399.3 L368.2 398.3 L369.2 397.3 L370.2 396.3 L371.2 395.3 L372.2 394.3 L373.2 393.3 L374.2 392.2 L375.2 391.2 L376.2 390.2 L377.2 389.2 L378.2 388.2 L379.2 387.2 L380.2 386.2 L381.2 385.2 L382.2 384.2 L383.2 383.2 L384.2 382.3 L385.2 381.3 L386.2 380.3 L387.2 379.3 L388.2 378.4 L389.2 377.4 L390.2 376.5 L391.2 375.5 L392.2 374.6 L393.2 373.7 L394.2 372.7 L395.2 371.8 L396.2 370.9 L397.2 370.0 L398.2 369.1 L399.2 368.2 L400.2 367.4 L401.2 366.5 L402.2 365.7 L403.2 364.8 L404.2 364.0 L405.2 363.1 L406.2 362.3 L407.2 361.5 L408.2 360.7 L409.2 360.0 L410.2 359.2 L411.2 358.4 L412.2 357.7 L413.2 357.0 L414.2 356.2 L415.2 355.5 L416.2 354.8 L417.2 354.1 L418.2 353.4 L419.2 352.8 L420.2 352.1 L421.2 351.5 L422.2 350.8 L423.2 350.2 L424.2 349.6 L425.2 348.9 L426.2 348.4 L427.2 347.8 L428.2 347.2 L429.2 346.6 L430.2 346.1 L431.2 345.5 L432.2 345.0 L433.2 344.4 L434.2 343.9 L435.2 343.4 L436.2 342.9 L437.2 342.4 L438.2 341.9 L439.2 341.5 L440.2 341.0 L441.2 340.5 L442.2 340.1 L443.2 339.7 L444.2 339.2 L445.2 338.8 L446.2 338.4 L447.3 338.0 L448.2 337.6" fill="none" stroke="#000" stroke-width="2.7" stroke-linejoin="round" stroke-linecap="butt"/>
<path d="M87.0 566.0L438.4 403.6" stroke="#ff0000" stroke-width="2.2" stroke-dasharray="8.3 5.3" fill="none"/>
<path d="M220.1 550.1L448.8 314.5" stroke="#0000ff" stroke-width="2.25" stroke-dasharray="5.5 1.4 1.5 1.4" fill="none"/>
<path d="M84.3 580.7h9.2M88.9 576.1v9.2" stroke="#000" stroke-width="1.90" fill="none"/>
<path d="M93.0 571.2h9.2M97.6 566.6v9.2" stroke="#000" stroke-width="1.90" fill="none"/>
<path d="M101.7 561.4h9.2M106.3 556.8v9.2" stroke="#000" stroke-width="1.90" fill="none"/>
<path d="M110.4 551.4h9.2M115.0 546.8v9.2" stroke="#000" stroke-width="1.90" fill="none"/>
<path d="M119.1 542.2h9.2M123.7 537.6v9.2" stroke="#000" stroke-width="1.90" fill="none"/>
<path d="M127.8 533.6h9.2M132.4 529.0v9.2" stroke="#000" stroke-width="1.90" fill="none"/>
<path d="M136.5 525.5h9.2M141.1 520.9v9.2" stroke="#000" stroke-width="1.90" fill="none"/>
<path d="M145.2 517.9h9.2M149.8 513.3v9.2" stroke="#000" stroke-width="1.90" fill="none"/>
<path d="M154.0 510.3h9.2M158.6 505.7v9.2" stroke="#000" stroke-width="1.90" fill="none"/>
<path d="M162.7 503.6h9.2M167.3 499.0v9.2" stroke="#000" stroke-width="1.90" fill="none"/>
<path d="M171.4 497.1h9.2M176.0 492.5v9.2" stroke="#000" stroke-width="1.90" fill="none"/>
<path d="M180.1 491.0h9.2M184.7 486.4v9.2" stroke="#000" stroke-width="1.90" fill="none"/>
<path d="M188.8 484.9h9.2M193.4 480.3v9.2" stroke="#000" stroke-width="1.90" fill="none"/>
<path d="M197.5 479.5h9.2M202.1 474.9v9.2" stroke="#000" stroke-width="1.90" fill="none"/>
<path d="M206.2 474.4h9.2M210.8 469.8v9.2" stroke="#000" stroke-width="1.90" fill="none"/>
<path d="M214.9 469.4h9.2M219.5 464.8v9.2" stroke="#000" stroke-width="1.90" fill="none"/>
<path d="M223.6 464.6h9.2M228.2 460.0v9.2" stroke="#000" stroke-width="1.90" fill="none"/>
<path d="M232.3 459.8h9.2M236.9 455.2v9.2" stroke="#000" stroke-width="1.90" fill="none"/>
<path d="M241.0 455.2h9.2M245.6 450.6v9.2" stroke="#000" stroke-width="1.90" fill="none"/>
<path d="M249.7 450.8h9.2M254.3 446.2v9.2" stroke="#000" stroke-width="1.90" fill="none"/>
<path d="M258.4 446.1h9.2M263.0 441.5v9.2" stroke="#000" stroke-width="1.90" fill="none"/>
<path d="M267.1 442.1h9.2M271.7 437.5v9.2" stroke="#000" stroke-width="1.90" fill="none"/>
<path d="M275.9 437.9h9.2M280.5 433.3v9.2" stroke="#000" stroke-width="1.90" fill="none"/>
<path d="M284.6 433.6h9.2M289.2 429.0v9.2" stroke="#000" stroke-width="1.90" fill="none"/>
<path d="M293.3 429.1h9.2M297.9 424.5v9.2" stroke="#000" stroke-width="1.90" fill="none"/>
<path d="M302.0 424.1h9.2M306.6 419.5v9.2" stroke="#000" stroke-width="1.90" fill="none"/>
<path d="M310.7 419.1h9.2M315.3 414.5v9.2" stroke="#000" stroke-width="1.90" fill="none"/>
<path d="M319.4 414.2h9.2M324.0 409.6v9.2" stroke="#000" stroke-width="1.90" fill="none"/>
<path d="M328.1 409.5h9.2M332.7 404.9v9.2" stroke="#000" stroke-width="1.90" fill="none"/>
<path d="M336.8 404.1h9.2M341.4 399.5v9.2" stroke="#000" stroke-width="1.90" fill="none"/>
<path d="M345.5 398.6h9.2M350.1 394.0v9.2" stroke="#000" stroke-width="1.90" fill="none"/>
<path d="M354.2 392.9h9.2M358.8 388.3v9.2" stroke="#000" stroke-width="1.90" fill="none"/>
<path d="M362.9 388.4h9.2M367.5 383.8v9.2" stroke="#000" stroke-width="1.90" fill="none"/>
<path d="M371.6 385.0h9.2M376.2 380.4v9.2" stroke="#000" stroke-width="1.90" fill="none"/>
<path d="M380.3 381.4h9.2M384.9 376.8v9.2" stroke="#000" stroke-width="1.90" fill="none"/>
<path d="M389.0 375.7h9.2M393.6 371.1v9.2" stroke="#000" stroke-width="1.90" fill="none"/>
<path d="M397.8 370.9h9.2M402.4 366.3v9.2" stroke="#000" stroke-width="1.90" fill="none"/>
<path d="M406.5 366.3h9.2M411.1 361.7v9.2" stroke="#000" stroke-width="1.90" fill="none"/>
<path d="M415.2 361.8h9.2M419.8 357.2v9.2" stroke="#000" stroke-width="1.90" fill="none"/>
<path d="M423.9 358.0h9.2M428.5 353.4v9.2" stroke="#000" stroke-width="1.90" fill="none"/>
<path d="M432.6 353.9h9.2M437.2 349.3v9.2" stroke="#000" stroke-width="1.90" fill="none"/>
<circle cx="87.8" cy="582.7" r="3.15" fill="none" stroke="#000" stroke-width="1.95"/>
<circle cx="95.1" cy="574.7" r="3.15" fill="none" stroke="#000" stroke-width="1.95"/>
<circle cx="102.3" cy="566.9" r="3.15" fill="none" stroke="#000" stroke-width="1.95"/>
<circle cx="109.6" cy="558.3" r="3.15" fill="none" stroke="#000" stroke-width="1.95"/>
<circle cx="116.9" cy="550.1" r="3.15" fill="none" stroke="#000" stroke-width="1.95"/>
<circle cx="124.1" cy="542.6" r="3.15" fill="none" stroke="#000" stroke-width="1.95"/>
<circle cx="131.4" cy="535.4" r="3.15" fill="none" stroke="#000" stroke-width="1.95"/>
<circle cx="138.7" cy="528.6" r="3.15" fill="none" stroke="#000" stroke-width="1.95"/>
<circle cx="145.9" cy="522.0" r="3.15" fill="none" stroke="#000" stroke-width="1.95"/>
<circle cx="153.2" cy="515.9" r="3.15" fill="none" stroke="#000" stroke-width="1.95"/>
<circle cx="160.5" cy="509.3" r="3.15" fill="none" stroke="#000" stroke-width="1.95"/>
<circle cx="167.7" cy="504.1" r="3.15" fill="none" stroke="#000" stroke-width="1.95"/>
<circle cx="175.0" cy="498.6" r="3.15" fill="none" stroke="#000" stroke-width="1.95"/>
<circle cx="182.3" cy="493.5" r="3.15" fill="none" stroke="#000" stroke-width="1.95"/>
<circle cx="189.5" cy="488.4" r="3.15" fill="none" stroke="#000" stroke-width="1.95"/>
<circle cx="196.8" cy="483.5" r="3.15" fill="none" stroke="#000" stroke-width="1.95"/>
<circle cx="204.0" cy="479.3" r="3.15" fill="none" stroke="#000" stroke-width="1.95"/>
<circle cx="211.3" cy="475.3" r="3.15" fill="none" stroke="#000" stroke-width="1.95"/>
<circle cx="218.6" cy="471.2" r="3.15" fill="none" stroke="#000" stroke-width="1.95"/>
<circle cx="225.8" cy="467.6" r="3.15" fill="none" stroke="#000" stroke-width="1.95"/>
<circle cx="233.1" cy="463.5" r="3.15" fill="none" stroke="#000" stroke-width="1.95"/>
<circle cx="240.4" cy="460.0" r="3.15" fill="none" stroke="#000" stroke-width="1.95"/>
<circle cx="247.6" cy="456.3" r="3.15" fill="none" stroke="#000" stroke-width="1.95"/>
<circle cx="254.9" cy="453.0" r="3.15" fill="none" stroke="#000" stroke-width="1.95"/>
<circle cx="262.2" cy="449.1" r="3.15" fill="none" stroke="#000" stroke-width="1.95"/>
<circle cx="269.4" cy="445.8" r="3.15" fill="none" stroke="#000" stroke-width="1.95"/>
<circle cx="276.7" cy="442.4" r="3.15" fill="none" stroke="#000" stroke-width="1.95"/>
<circle cx="284.0" cy="438.7" r="3.15" fill="none" stroke="#000" stroke-width="1.95"/>
<circle cx="291.2" cy="435.2" r="3.15" fill="none" stroke="#000" stroke-width="1.95"/>
<circle cx="298.5" cy="431.3" r="3.15" fill="none" stroke="#000" stroke-width="1.95"/>
<circle cx="305.8" cy="427.2" r="3.15" fill="none" stroke="#000" stroke-width="1.95"/>
<circle cx="313.0" cy="423.0" r="3.15" fill="none" stroke="#000" stroke-width="1.95"/>
<circle cx="320.3" cy="418.7" r="3.15" fill="none" stroke="#000" stroke-width="1.95"/>
<circle cx="327.6" cy="414.9" r="3.15" fill="none" stroke="#000" stroke-width="1.95"/>
<circle cx="334.8" cy="411.0" r="3.15" fill="none" stroke="#000" stroke-width="1.95"/>
<circle cx="342.1" cy="406.3" r="3.15" fill="none" stroke="#000" stroke-width="1.95"/>
<circle cx="349.4" cy="401.7" r="3.15" fill="none" stroke="#000" stroke-width="1.95"/>
<circle cx="356.6" cy="396.6" r="3.15" fill="none" stroke="#000" stroke-width="1.95"/>
<circle cx="363.9" cy="391.4" r="3.15" fill="none" stroke="#000" stroke-width="1.95"/>
<circle cx="371.2" cy="385.9" r="3.15" fill="none" stroke="#000" stroke-width="1.95"/>
<circle cx="378.4" cy="380.3" r="3.15" fill="none" stroke="#000" stroke-width="1.95"/>
<circle cx="385.7" cy="374.4" r="3.15" fill="none" stroke="#000" stroke-width="1.95"/>
<circle cx="393.0" cy="368.8" r="3.15" fill="none" stroke="#000" stroke-width="1.95"/>
<circle cx="400.2" cy="362.8" r="3.15" fill="none" stroke="#000" stroke-width="1.95"/>
<circle cx="407.5" cy="356.5" r="3.15" fill="none" stroke="#000" stroke-width="1.95"/>
<circle cx="414.8" cy="350.6" r="3.15" fill="none" stroke="#000" stroke-width="1.95"/>
<circle cx="422.0" cy="344.9" r="3.15" fill="none" stroke="#000" stroke-width="1.95"/>
<circle cx="429.3" cy="339.2" r="3.15" fill="none" stroke="#000" stroke-width="1.95"/>
<circle cx="436.5" cy="333.5" r="3.15" fill="none" stroke="#000" stroke-width="1.95"/>
<circle cx="443.8" cy="329.0" r="3.15" fill="none" stroke="#000" stroke-width="1.95"/>
<circle cx="451.1" cy="325.7" r="3.15" fill="none" stroke="#000" stroke-width="1.95"/>
<circle cx="458.3" cy="323.5" r="3.15" fill="none" stroke="#000" stroke-width="1.95"/>
<circle cx="465.6" cy="322.0" r="3.15" fill="none" stroke="#000" stroke-width="1.95"/>
<circle cx="472.9" cy="321.3" r="3.15" fill="none" stroke="#000" stroke-width="1.95"/>
<circle cx="480.1" cy="320.9" r="3.15" fill="none" stroke="#000" stroke-width="1.95"/>
<circle cx="487.4" cy="320.9" r="3.15" fill="none" stroke="#000" stroke-width="1.95"/>
<circle cx="494.7" cy="320.9" r="3.15" fill="none" stroke="#000" stroke-width="1.95"/>
<circle cx="501.9" cy="320.9" r="3.15" fill="none" stroke="#000" stroke-width="1.95"/>
<circle cx="509.2" cy="320.9" r="3.15" fill="none" stroke="#000" stroke-width="1.95"/>
<circle cx="516.5" cy="320.9" r="3.15" fill="none" stroke="#000" stroke-width="1.95"/>
<circle cx="523.7" cy="320.9" r="3.15" fill="none" stroke="#000" stroke-width="1.95"/>
<circle cx="531.0" cy="320.9" r="3.15" fill="none" stroke="#000" stroke-width="1.95"/>
<circle cx="224.1" cy="502.6" r="5.5" fill="#ff0000"/>
<circle cx="372.3" cy="393.3" r="5.5" fill="#0000ff"/>
</g>
<rect x="86.4" y="314.5" width="444.4" height="280.0" fill="none" stroke="#1c1c1c" stroke-width="1.3"/>
<path d="M153.29 594.5v-2.4M153.29 314.5v2.4M192.42 594.5v-2.4M192.42 314.5v2.4M220.18 594.5v-2.4M220.18 314.5v2.4M241.71 594.5v-2.4M241.71 314.5v2.4M259.31 594.5v-2.4M259.31 314.5v2.4M274.18 594.5v-2.4M274.18 314.5v2.4M287.07 594.5v-2.4M287.07 314.5v2.4M298.43 594.5v-2.4M298.43 314.5v2.4M308.60 594.5v-4.5M308.60 314.5v4.5M375.49 594.5v-2.4M375.49 314.5v2.4M414.62 594.5v-2.4M414.62 314.5v2.4M442.38 594.5v-2.4M442.38 314.5v2.4M463.91 594.5v-2.4M463.91 314.5v2.4M481.51 594.5v-2.4M481.51 314.5v2.4M496.38 594.5v-2.4M496.38 314.5v2.4M509.27 594.5v-2.4M509.27 314.5v2.4M520.63 594.5v-2.4M520.63 314.5v2.4M86.4 554.50h5.0M530.8 554.50h-5.0M86.4 514.50h5.0M530.8 514.50h-5.0M86.4 474.50h5.0M530.8 474.50h-5.0M86.4 434.50h5.0M530.8 434.50h-5.0M86.4 394.50h5.0M530.8 394.50h-5.0M86.4 354.50h5.0M530.8 354.50h-5.0" stroke="#1c1c1c" stroke-width="1.35" fill="none"/>
<text x="77.1" y="317.7" font-size="24.6" text-anchor="end">22</text>
<text x="77.1" y="358.5" font-size="24.6" text-anchor="end">20</text>
<text x="77.1" y="399.3" font-size="24.6" text-anchor="end">18</text>
<text x="77.1" y="440.1" font-size="24.6" text-anchor="end">16</text>
<text x="77.1" y="480.9" font-size="24.6" text-anchor="end">14</text>
<text x="77.1" y="521.7" font-size="24.6" text-anchor="end">12</text>
<text x="77.1" y="562.5" font-size="24.6" text-anchor="end">10</text>
<text x="77.1" y="603.3" font-size="24.6" text-anchor="end">8</text>
<text x="70.24" y="625.6" font-size="24.6">10</text><text x="94.99" y="616.20" font-size="16.50">1</text>
<text x="292.84" y="625.6" font-size="24.6">10</text><text x="317.31" y="616.20" font-size="16.50">2</text>
<text x="516.84" y="625.6" font-size="24.6">10</text><text x="541.25" y="616.20" font-size="16.50">3</text>
<text x="2.07" y="323.00" font-size="28.00">(</text>
<text x="11.38" y="323.70" font-size="31.00" font-style="italic">a</text>
<text x="27.70" y="323.00" font-size="28.00">)</text>
<text x="0.98" y="468.00" font-size="28.50" font-style="italic">U</text>
<text x="22.22" y="461.21" font-size="27.00">+</text>
<text x="295.91" y="666.60" font-size="28.00" font-style="italic">z</text>
<text x="306.77" y="660.36" font-size="27.00">+</text>
</g>
<g id="chartB">
<line x1="724.45" y1="314.5" x2="724.45" y2="594.5" stroke="#b4b4b4" stroke-width="1.5" stroke-dasharray="1.3 1.96"/>
<line x1="763.50" y1="314.5" x2="763.50" y2="594.5" stroke="#b4b4b4" stroke-width="1.5" stroke-dasharray="1.3 1.96"/>
<line x1="791.21" y1="314.5" x2="791.21" y2="594.5" stroke="#b4b4b4" stroke-width="1.5" stroke-dasharray="1.3 1.96"/>
<line x1="812.70" y1="314.5" x2="812.70" y2="594.5" stroke="#b4b4b4" stroke-width="1.5" stroke-dasharray="1.3 1.96"/>
<line x1="830.26" y1="314.5" x2="830.26" y2="594.5" stroke="#b4b4b4" stroke-width="1.5" stroke-dasharray="1.3 1.96"/>
<line x1="845.10" y1="314.5" x2="845.10" y2="594.5" stroke="#b4b4b4" stroke-width="1.5" stroke-dasharray="1.3 1.96"/>
<line x1="857.96" y1="314.5" x2="857.96" y2="594.5" stroke="#b4b4b4" stroke-width="1.5" stroke-dasharray="1.3 1.96"/>
<line x1="869.30" y1="314.5" x2="869.30" y2="594.5" stroke="#b4b4b4" stroke-width="1.5" stroke-dasharray="1.3 1.96"/>
<line x1="946.20" y1="314.5" x2="946.20" y2="594.5" stroke="#b4b4b4" stroke-width="1.5" stroke-dasharray="1.3 1.96"/>
<line x1="985.25" y1="314.5" x2="985.25" y2="594.5" stroke="#b4b4b4" stroke-width="1.5" stroke-dasharray="1.3 1.96"/>
<line x1="1012.96" y1="314.5" x2="1012.96" y2="594.5" stroke="#b4b4b4" stroke-width="1.5" stroke-dasharray="1.3 1.96"/>
<line x1="1034.45" y1="314.5" x2="1034.45" y2="594.5" stroke="#b4b4b4" stroke-width="1.5" stroke-dasharray="1.3 1.96"/>
<line x1="1052.01" y1="314.5" x2="1052.01" y2="594.5" stroke="#b4b4b4" stroke-width="1.5" stroke-dasharray="1.3 1.96"/>
<line x1="1066.85" y1="314.5" x2="1066.85" y2="594.5" stroke="#b4b4b4" stroke-width="1.5" stroke-dasharray="1.3 1.96"/>
<line x1="1079.71" y1="314.5" x2="1079.71" y2="594.5" stroke="#b4b4b4" stroke-width="1.5" stroke-dasharray="1.3 1.96"/>
<line x1="1091.05" y1="314.5" x2="1091.05" y2="594.5" stroke="#b4b4b4" stroke-width="1.5" stroke-dasharray="1.3 1.96"/>
<line x1="879.45" y1="314.5" x2="879.45" y2="594.5" stroke="#d6d6d6" stroke-width="1.1"/>
<line x1="657.7" y1="538.50" x2="1101.2" y2="538.50" stroke="#d6d6d6" stroke-width="1.1"/>
<line x1="657.7" y1="482.50" x2="1101.2" y2="482.50" stroke="#d6d6d6" stroke-width="1.1"/>
<line x1="657.7" y1="426.50" x2="1101.2" y2="426.50" stroke="#d6d6d6" stroke-width="1.1"/>
<line x1="657.7" y1="370.50" x2="1101.2" y2="370.50" stroke="#d6d6d6" stroke-width="1.1"/>
<clipPath id="clipB"><rect x="657.7" y="313.5" width="449.5" height="282.0"/></clipPath>
<g clip-path="url(#clipB)">
<path d="M657.7 392.6 L658.5 393.2 L659.5 394.0 L660.7 394.9 L662.1 395.9 L663.5 397.0 L665.0 398.3 L666.5 399.6 L668.0 401.0 L669.0 402.0 L670.0 403.1 L671.1 404.3 L672.2 405.5 L673.3 406.8 L674.5 408.1 L675.6 409.4 L676.7 410.7 L677.7 412.0 L678.7 413.2 L679.7 414.4 L680.6 415.5 L681.7 416.9 L682.8 418.4 L683.8 419.8 L684.7 421.1 L685.6 422.4 L686.4 423.6 L687.2 424.8 L687.9 425.8 L688.5 426.7 L689.7 428.3 L690.4 429.1 L691.5 430.5 L692.3 431.6 L693.2 432.8 L694.3 434.2 L695.3 435.7 L696.4 437.1 L697.5 438.6 L698.5 440.0 L699.4 441.3 L700.3 442.6 L701.1 443.8 L702.0 445.1 L702.9 446.4 L703.8 447.7 L704.8 449.2 L705.7 450.4 L706.6 451.8 L707.6 453.2 L708.5 454.6 L709.6 456.1 L710.5 457.5 L711.5 458.9 L712.4 460.3 L713.3 461.5 L714.3 463.0 L715.2 464.3 L716.1 465.5 L716.9 466.8 L717.7 468.0 L718.6 469.3 L719.6 470.7 L720.4 471.9 L721.3 473.2 L722.2 474.5 L723.2 475.8 L724.1 477.2 L725.0 478.5 L726.0 479.8 L726.9 481.0 L727.7 482.2 L728.7 483.6 L729.7 484.8 L730.6 486.0 L731.5 487.2 L732.4 488.3 L733.3 489.5 L734.4 490.7 L735.4 491.8 L736.5 493.0 L737.7 494.2 L738.8 495.4 L740.0 496.6 L741.1 497.8 L742.2 498.9 L743.2 499.9 L744.6 501.4 L745.7 502.7 L746.8 503.9 L748.0 505.0 L749.2 506.2 L750.3 507.2 L751.5 508.1 L752.8 509.0 L754.0 509.9 L755.3 510.8 L756.5 511.7 L757.8 512.6 L759.0 513.6 L760.3 514.5 L761.6 515.4 L762.8 516.3 L764.0 517.0 L765.6 517.8 L767.0 518.5 L768.4 519.0 L769.8 519.6 L771.3 520.2 L772.8 520.9 L774.4 521.5 L776.0 522.0 L777.7 522.5 L779.6 522.9 L781.4 523.4 L783.1 523.7 L785.1 524.1 L787.1 524.3 L789.0 524.5 L790.5 524.6 L792.0 524.6 L793.5 524.7 L795.1 524.6 L796.8 524.5 L798.5 524.3 L800.2 524.1 L802.0 523.8 L803.5 523.6 L805.1 523.4 L806.7 523.1 L808.2 522.8 L809.7 522.5 L811.4 522.1 L812.9 521.6 L814.4 521.0 L816.0 520.4 L817.4 519.8 L818.8 519.2 L820.3 518.6 L821.7 517.9 L823.0 517.2 L824.5 516.3 L825.9 515.5 L827.2 514.6 L828.5 513.6 L829.8 512.6 L831.2 511.5 L832.5 510.4 L833.7 509.2 L834.9 508.0 L835.9 506.7 L837.0 505.3 L838.0 504.0 L839.0 502.7 L839.9 501.3 L840.8 499.9 L841.7 498.5 L842.6 497.1 L843.6 495.7 L844.5 494.3 L845.5 492.8 L846.5 491.3 L847.6 489.7 L848.7 488.1 L849.7 486.6 L850.7 485.3 L851.7 484.0 L852.7 482.8 L853.7 481.6 L855.1 480.1 L856.5 478.6 L857.7 477.2 L858.7 475.9 L859.6 474.7 L860.5 473.5 L861.4 472.2 L862.2 470.9 L863.0 469.3 L863.6 467.9 L864.3 466.3 L864.9 464.7 L865.6 463.0 L866.1 461.6 L866.7 460.2 L867.2 458.8 L867.8 457.3 L868.3 455.8 L868.8 454.3 L869.3 452.7 L869.8 451.1 L870.3 449.5 L870.8 448.0 L871.3 446.5 L871.9 445.0 L872.5 443.5 L873.0 442.0 L873.6 440.6 L874.3 438.9 L874.9 437.2 L875.5 435.7 L876.2 434.2 L877.1 432.4 L878.1 430.8 L879.0 429.3 L880.3 427.5 L881.5 426.0 L882.9 424.6 L884.3 423.2 L885.7 421.8 L887.0 420.3 L888.3 418.8 L889.6 417.0 L890.2 415.8 L890.7 414.5 L891.3 413.1 L892.0 411.5 L892.7 410.1 L893.5 408.6 L894.3 407.0 L895.2 405.5 L896.0 404.0 L896.8 402.6 L897.6 401.2 L898.4 399.9 L899.2 398.5 L899.9 397.2 L900.8 395.6 L901.6 393.9 L902.4 392.3 L903.2 390.7 L903.9 389.3 L904.6 387.9 L905.2 386.5 L905.9 385.1 L906.6 383.9 L907.7 382.1 L908.7 380.6 L909.8 379.2 L910.9 378.0 L912.1 376.9 L913.2 375.9 L914.9 374.6 L916.5 373.6 L918.3 372.6 L919.9 372.0 L920.9 372.1 L921.6 372.4 L922.4 372.8 L923.1 373.2 L923.9 373.1 L924.8 372.8 L925.7 372.5 L926.6 372.5 L927.6 373.1 L928.6 373.9 L929.6 374.9 L930.6 375.9 L931.7 376.9 L933.0 377.8 L934.5 378.6 L935.9 379.1 L936.9 378.8 L937.8 378.0 L938.9 377.0 L939.9 375.9 L940.7 374.8 L941.5 373.7 L942.2 372.5 L943.1 372.0 L943.8 372.9 L944.7 374.4 L945.5 375.9 L946.3 377.2 L947.0 378.6 L947.9 379.9 L948.9 381.3 L950.1 382.6 L951.2 384.0 L952.3 385.3 L953.4 386.7 L954.5 387.9 L955.9 389.6 L957.2 391.2 L958.5 392.9 L959.8 394.6 L960.8 396.5 L961.8 398.5 L962.4 399.8 L963.1 401.2 L963.8 402.6 L964.6 404.0 L965.6 405.4 L966.5 406.8 L967.4 408.1 L968.4 409.5 L969.2 410.6 L970.2 411.9 L971.2 413.0 L972.2 414.0 L973.2 415.3 L973.9 416.6 L974.5 418.2 L975.2 419.8 L975.8 421.5 L976.5 423.3 L977.1 425.2 L977.6 426.7 L978.1 428.2 L978.6 429.9 L979.1 431.5 L979.6 433.2 L980.1 435.0 L980.6 436.8 L981.1 438.5 L981.6 440.2 L982.1 441.9 L982.6 443.5 L983.1 445.2 L983.6 446.8 L984.1 448.4 L984.6 450.1 L985.1 451.8 L985.6 453.3 L986.1 454.9 L986.7 456.5 L987.2 458.2 L987.8 459.8 L988.4 461.4 L988.9 463.0 L989.5 464.6 L990.0 466.2 L990.5 467.8 L990.9 469.3 L991.4 470.9 L991.7 472.4 L992.1 473.9 L992.5 475.5 L992.9 477.1 L993.3 478.8 L993.6 480.5 L994.0 482.1 L994.4 483.8 L994.8 485.4 L995.2 487.0 L995.6 488.6 L996.0 490.2 L996.4 491.8 L996.8 493.3 L997.1 494.7 L997.5 496.2 L997.9 497.8 L998.4 499.7 L998.7 501.0 L999.0 502.3 L999.4 503.8 L999.7 505.4 L1000.1 507.0 L1000.5 508.5 L1000.8 510.1 L1001.2 511.6 L1001.5 513.0 L1001.9 514.7 L1002.3 516.3 L1002.7 517.9 L1003.1 519.4 L1003.5 520.9 L1003.8 522.5 L1004.2 524.0 L1004.5 525.6 L1004.9 527.1 L1005.2 528.7 L1005.5 530.3 L1005.7 531.8 L1006.0 533.3 L1006.3 534.7 L1006.7 536.6 L1007.0 538.4 L1007.4 540.0 L1007.7 541.6 L1008.0 543.0 L1008.4 545.0 L1008.8 546.7 L1009.2 548.0 L1009.8 549.5 L1010.3 550.1 L1010.9 549.7 L1011.4 548.5 L1011.8 547.0 L1012.1 545.3 L1012.4 544.0" fill="none" stroke="#000" stroke-width="2.7" stroke-linejoin="round"/>
<path d="M1012.4 544.0 L1014.6 529.9 L1016.9 503.9 L1018.6 475.5 L1019.2 492.0 L1019.8 505.1" fill="none" stroke="#000" stroke-width="2.7" stroke-linejoin="round"/>
<path d="M663.4 337.8h9.2M668.0 333.2v9.2" stroke="#000" stroke-width="1.90" fill="none"/>
<path d="M676.8 347.9h9.2M681.4 343.3v9.2" stroke="#000" stroke-width="1.90" fill="none"/>
<path d="M687.4 361.7h9.2M692.0 357.1v9.2" stroke="#000" stroke-width="1.90" fill="none"/>
<path d="M698.7 378.0h9.2M703.3 373.4v9.2" stroke="#000" stroke-width="1.90" fill="none"/>
<path d="M708.7 394.4h9.2M713.3 389.8v9.2" stroke="#000" stroke-width="1.90" fill="none"/>
<path d="M720.1 412.5h9.2M724.7 407.9v9.2" stroke="#000" stroke-width="1.90" fill="none"/>
<path d="M729.1 428.2h9.2M733.7 423.6v9.2" stroke="#000" stroke-width="1.90" fill="none"/>
<path d="M737.5 442.4h9.2M742.1 437.8v9.2" stroke="#000" stroke-width="1.90" fill="none"/>
<path d="M747.8 456.4h9.2M752.4 451.8v9.2" stroke="#000" stroke-width="1.90" fill="none"/>
<path d="M757.2 469.3h9.2M761.8 464.7v9.2" stroke="#000" stroke-width="1.90" fill="none"/>
<path d="M766.5 479.1h9.2M771.1 474.5v9.2" stroke="#000" stroke-width="1.90" fill="none"/>
<path d="M775.1 487.1h9.2M779.7 482.5v9.2" stroke="#000" stroke-width="1.90" fill="none"/>
<path d="M782.5 493.8h9.2M787.1 489.2v9.2" stroke="#000" stroke-width="1.90" fill="none"/>
<path d="M789.7 499.9h9.2M794.3 495.3v9.2" stroke="#000" stroke-width="1.90" fill="none"/>
<path d="M797.2 505.2h9.2M801.8 500.6v9.2" stroke="#000" stroke-width="1.90" fill="none"/>
<path d="M804.3 508.4h9.2M808.9 503.8v9.2" stroke="#000" stroke-width="1.90" fill="none"/>
<path d="M811.8 510.5h9.2M816.4 505.9v9.2" stroke="#000" stroke-width="1.90" fill="none"/>
<path d="M819.8 511.9h9.2M824.4 507.3v9.2" stroke="#000" stroke-width="1.90" fill="none"/>
<path d="M827.8 512.4h9.2M832.4 507.8v9.2" stroke="#000" stroke-width="1.90" fill="none"/>
<path d="M835.0 513.2h9.2M839.6 508.6v9.2" stroke="#000" stroke-width="1.90" fill="none"/>
<path d="M842.4 513.2h9.2M847.0 508.6v9.2" stroke="#000" stroke-width="1.90" fill="none"/>
<path d="M849.6 512.4h9.2M854.2 507.8v9.2" stroke="#000" stroke-width="1.90" fill="none"/>
<path d="M856.9 511.5h9.2M861.5 506.9v9.2" stroke="#000" stroke-width="1.90" fill="none"/>
<path d="M862.6 510.7h9.2M867.2 506.1v9.2" stroke="#000" stroke-width="1.90" fill="none"/>
<path d="M869.2 509.9h9.2M873.8 505.3v9.2" stroke="#000" stroke-width="1.90" fill="none"/>
<path d="M875.9 509.1h9.2M880.5 504.5v9.2" stroke="#000" stroke-width="1.90" fill="none"/>
<path d="M882.0 508.3h9.2M886.6 503.7v9.2" stroke="#000" stroke-width="1.90" fill="none"/>
<path d="M888.7 507.6h9.2M893.3 503.0v9.2" stroke="#000" stroke-width="1.90" fill="none"/>
<path d="M895.3 506.8h9.2M899.9 502.2v9.2" stroke="#000" stroke-width="1.90" fill="none"/>
<path d="M901.2 505.9h9.2M905.8 501.3v9.2" stroke="#000" stroke-width="1.90" fill="none"/>
<path d="M907.3 505.0h9.2M911.9 500.4v9.2" stroke="#000" stroke-width="1.90" fill="none"/>
<path d="M912.6 503.6h9.2M917.2 499.0v9.2" stroke="#000" stroke-width="1.90" fill="none"/>
<path d="M918.5 502.2h9.2M923.1 497.6v9.2" stroke="#000" stroke-width="1.90" fill="none"/>
<path d="M924.6 500.8h9.2M929.2 496.2v9.2" stroke="#000" stroke-width="1.90" fill="none"/>
<path d="M929.9 499.7h9.2M934.5 495.1v9.2" stroke="#000" stroke-width="1.90" fill="none"/>
<path d="M935.3 498.4h9.2M939.9 493.8v9.2" stroke="#000" stroke-width="1.90" fill="none"/>
<path d="M939.5 495.9h9.2M944.1 491.3v9.2" stroke="#000" stroke-width="1.90" fill="none"/>
<path d="M944.8 495.0h9.2M949.4 490.4v9.2" stroke="#000" stroke-width="1.90" fill="none"/>
<path d="M950.1 494.6h9.2M954.7 490.0v9.2" stroke="#000" stroke-width="1.90" fill="none"/>
<path d="M955.3 494.8h9.2M959.9 490.2v9.2" stroke="#000" stroke-width="1.90" fill="none"/>
<path d="M960.3 496.7h9.2M964.9 492.1v9.2" stroke="#000" stroke-width="1.90" fill="none"/>
<path d="M965.3 499.3h9.2M969.9 494.7v9.2" stroke="#000" stroke-width="1.90" fill="none"/>
<path d="M970.0 502.6h9.2M974.6 498.0v9.2" stroke="#000" stroke-width="1.90" fill="none"/>
<path d="M974.5 506.0h9.2M979.1 501.4v9.2" stroke="#000" stroke-width="1.90" fill="none"/>
<path d="M979.3 510.0h9.2M983.9 505.4v9.2" stroke="#000" stroke-width="1.90" fill="none"/>
<path d="M983.9 513.8h9.2M988.5 509.2v9.2" stroke="#000" stroke-width="1.90" fill="none"/>
<path d="M988.4 518.5h9.2M993.0 513.9v9.2" stroke="#000" stroke-width="1.90" fill="none"/>
<path d="M992.6 524.0h9.2M997.2 519.4v9.2" stroke="#000" stroke-width="1.90" fill="none"/>
<path d="M996.8 530.0h9.2M1001.4 525.4v9.2" stroke="#000" stroke-width="1.90" fill="none"/>
<path d="M1000.8 535.8h9.2M1005.4 531.2v9.2" stroke="#000" stroke-width="1.90" fill="none"/>
<path d="M1004.8 537.5h9.2M1009.4 532.9v9.2" stroke="#000" stroke-width="1.90" fill="none"/>
<path d="M1011.6 517.6h9.2M1016.2 513.0v9.2" stroke="#000" stroke-width="1.90" fill="none"/>
<path d="M1015.9 527.1h9.2M1020.5 522.5v9.2" stroke="#000" stroke-width="1.90" fill="none"/>
<circle cx="659.2" cy="337.8" r="3.15" fill="none" stroke="#000" stroke-width="1.95"/>
<circle cx="666.3" cy="341.6" r="3.15" fill="none" stroke="#000" stroke-width="1.95"/>
<circle cx="673.6" cy="347.1" r="3.15" fill="none" stroke="#000" stroke-width="1.95"/>
<circle cx="680.6" cy="353.6" r="3.15" fill="none" stroke="#000" stroke-width="1.95"/>
<circle cx="688.2" cy="363.0" r="3.15" fill="none" stroke="#000" stroke-width="1.95"/>
<circle cx="695.2" cy="372.3" r="3.15" fill="none" stroke="#000" stroke-width="1.95"/>
<circle cx="702.5" cy="383.1" r="3.15" fill="none" stroke="#000" stroke-width="1.95"/>
<circle cx="709.8" cy="395.2" r="3.15" fill="none" stroke="#000" stroke-width="1.95"/>
<circle cx="717.1" cy="407.0" r="3.15" fill="none" stroke="#000" stroke-width="1.95"/>
<circle cx="724.3" cy="419.3" r="3.15" fill="none" stroke="#000" stroke-width="1.95"/>
<circle cx="731.7" cy="431.2" r="3.15" fill="none" stroke="#000" stroke-width="1.95"/>
<circle cx="739.2" cy="443.2" r="3.15" fill="none" stroke="#000" stroke-width="1.95"/>
<circle cx="746.4" cy="453.8" r="3.15" fill="none" stroke="#000" stroke-width="1.95"/>
<circle cx="753.3" cy="463.9" r="3.15" fill="none" stroke="#000" stroke-width="1.95"/>
<circle cx="760.5" cy="474.0" r="3.15" fill="none" stroke="#000" stroke-width="1.95"/>
<circle cx="767.7" cy="482.6" r="3.15" fill="none" stroke="#000" stroke-width="1.95"/>
<circle cx="774.9" cy="490.6" r="3.15" fill="none" stroke="#000" stroke-width="1.95"/>
<circle cx="782.1" cy="497.7" r="3.15" fill="none" stroke="#000" stroke-width="1.95"/>
<circle cx="789.2" cy="503.9" r="3.15" fill="none" stroke="#000" stroke-width="1.95"/>
<circle cx="796.4" cy="508.7" r="3.15" fill="none" stroke="#000" stroke-width="1.95"/>
<circle cx="803.6" cy="512.4" r="3.15" fill="none" stroke="#000" stroke-width="1.95"/>
<circle cx="810.8" cy="515.0" r="3.15" fill="none" stroke="#000" stroke-width="1.95"/>
<circle cx="818.0" cy="516.4" r="3.15" fill="none" stroke="#000" stroke-width="1.95"/>
<circle cx="825.2" cy="517.2" r="3.15" fill="none" stroke="#000" stroke-width="1.95"/>
<circle cx="832.4" cy="517.2" r="3.15" fill="none" stroke="#000" stroke-width="1.95"/>
<circle cx="839.6" cy="516.4" r="3.15" fill="none" stroke="#000" stroke-width="1.95"/>
<circle cx="847.0" cy="515.0" r="3.15" fill="none" stroke="#000" stroke-width="1.95"/>
<circle cx="854.2" cy="513.2" r="3.15" fill="none" stroke="#000" stroke-width="1.95"/>
<circle cx="861.5" cy="510.8" r="3.15" fill="none" stroke="#000" stroke-width="1.95"/>
<circle cx="868.8" cy="507.8" r="3.15" fill="none" stroke="#000" stroke-width="1.95"/>
<circle cx="876.1" cy="504.4" r="3.15" fill="none" stroke="#000" stroke-width="1.95"/>
<circle cx="883.3" cy="500.1" r="3.15" fill="none" stroke="#000" stroke-width="1.95"/>
<circle cx="890.7" cy="495.8" r="3.15" fill="none" stroke="#000" stroke-width="1.95"/>
<circle cx="897.8" cy="490.9" r="3.15" fill="none" stroke="#000" stroke-width="1.95"/>
<circle cx="905.3" cy="485.1" r="3.15" fill="none" stroke="#000" stroke-width="1.95"/>
<circle cx="912.4" cy="479.0" r="3.15" fill="none" stroke="#000" stroke-width="1.95"/>
<circle cx="919.4" cy="472.3" r="3.15" fill="none" stroke="#000" stroke-width="1.95"/>
<circle cx="926.6" cy="465.9" r="3.15" fill="none" stroke="#000" stroke-width="1.95"/>
<circle cx="934.0" cy="459.3" r="3.15" fill="none" stroke="#000" stroke-width="1.95"/>
<circle cx="941.2" cy="452.4" r="3.15" fill="none" stroke="#000" stroke-width="1.95"/>
<circle cx="948.4" cy="445.4" r="3.15" fill="none" stroke="#000" stroke-width="1.95"/>
<circle cx="955.8" cy="438.5" r="3.15" fill="none" stroke="#000" stroke-width="1.95"/>
<circle cx="963.0" cy="432.4" r="3.15" fill="none" stroke="#000" stroke-width="1.95"/>
<circle cx="970.0" cy="427.3" r="3.15" fill="none" stroke="#000" stroke-width="1.95"/>
<circle cx="977.1" cy="425.2" r="3.15" fill="none" stroke="#000" stroke-width="1.95"/>
<circle cx="984.6" cy="423.1" r="3.15" fill="none" stroke="#000" stroke-width="1.95"/>
<circle cx="991.8" cy="427.3" r="3.15" fill="none" stroke="#000" stroke-width="1.95"/>
<circle cx="999.0" cy="438.0" r="3.15" fill="none" stroke="#000" stroke-width="1.95"/>
<circle cx="1006.2" cy="460.7" r="3.15" fill="none" stroke="#000" stroke-width="1.95"/>
<circle cx="1013.3" cy="492.2" r="3.15" fill="none" stroke="#000" stroke-width="1.95"/>
<circle cx="1020.5" cy="535.1" r="3.15" fill="none" stroke="#000" stroke-width="1.95"/>
<circle cx="1027.8" cy="577.3" r="3.15" fill="none" stroke="#000" stroke-width="1.95"/>
<circle cx="795.1" cy="524.4" r="5.5" fill="#ff0000"/>
<circle cx="943.1" cy="372.0" r="5.5" fill="#0000ff"/>
</g>
<rect x="657.7" y="314.5" width="443.5" height="280.0" fill="none" stroke="#1c1c1c" stroke-width="1.3"/>
<path d="M724.45 594.5v-2.4M724.45 314.5v2.4M763.50 594.5v-2.4M763.50 314.5v2.4M791.21 594.5v-2.4M791.21 314.5v2.4M812.70 594.5v-2.4M812.70 314.5v2.4M830.26 594.5v-2.4M830.26 314.5v2.4M845.10 594.5v-2.4M845.10 314.5v2.4M857.96 594.5v-2.4M857.96 314.5v2.4M869.30 594.5v-2.4M869.30 314.5v2.4M879.45 594.5v-4.5M879.45 314.5v4.5M946.20 594.5v-2.4M946.20 314.5v2.4M985.25 594.5v-2.4M985.25 314.5v2.4M1012.96 594.5v-2.4M1012.96 314.5v2.4M1034.45 594.5v-2.4M1034.45 314.5v2.4M1052.01 594.5v-2.4M1052.01 314.5v2.4M1066.85 594.5v-2.4M1066.85 314.5v2.4M1079.71 594.5v-2.4M1079.71 314.5v2.4M1091.05 594.5v-2.4M1091.05 314.5v2.4M657.7 538.50h5.0M1101.2 538.50h-5.0M657.7 482.50h5.0M1101.2 482.50h-5.0M657.7 426.50h5.0M1101.2 426.50h-5.0M657.7 370.50h5.0M1101.2 370.50h-5.0" stroke="#1c1c1c" stroke-width="1.35" fill="none"/>
<text x="647.5" y="320.4" font-size="24.6" text-anchor="end">6</text>
<text x="647.5" y="376.5" font-size="24.6" text-anchor="end">5</text>
<text x="647.5" y="432.7" font-size="24.6" text-anchor="end">4</text>
<text x="647.5" y="488.8" font-size="24.6" text-anchor="end">3</text>
<text x="647.5" y="545.0" font-size="24.6" text-anchor="end">2</text>
<text x="647.5" y="601.1" font-size="24.6" text-anchor="end">1</text>
<text x="640.24" y="625.6" font-size="24.6">10</text><text x="664.99" y="616.20" font-size="16.50">1</text>
<text x="862.14" y="625.6" font-size="24.6">10</text><text x="886.61" y="616.20" font-size="16.50">2</text>
<text x="1084.04" y="625.6" font-size="24.6">10</text><text x="1108.45" y="616.20" font-size="16.50">3</text>
<text x="586.97" y="323.00" font-size="28.00">(</text>
<text x="596.79" y="323.70" font-size="30.00" font-style="italic">b</text>
<text x="612.50" y="323.00" font-size="28.00">)</text>
<text x="866.31" y="666.60" font-size="28.00" font-style="italic">z</text>
<text x="877.37" y="660.56" font-size="27.00">+</text>
<g transform="translate(614.1 528.6) rotate(-90)">
<text x="-1.06" y="0.00" font-size="32.00">∂</text>
<text x="11.18" y="0.00" font-size="28.50" font-style="italic">U</text>
<text x="33.57" y="-6.64" font-size="27.00">+</text>
<line x1="51.4" y1="6.5" x2="60.5" y2="-18.9" stroke="#111" stroke-width="1.5"/>
<text x="62.54" y="0.00" font-size="32.00">∂</text>
<text x="78.54" y="0.00" font-size="28.00">l</text>
<text x="85.46" y="0.00" font-size="28.00">n</text>
<text x="101.97" y="0.00" font-size="28.00">(</text>
<text x="112.11" y="0.00" font-size="28.00" font-style="italic">z</text>
<text x="123.47" y="-6.79" font-size="27.00">+</text>
<text x="139.50" y="0.00" font-size="28.00">)</text>
</g>
</g>
</g>
</svg>
</body></html>
